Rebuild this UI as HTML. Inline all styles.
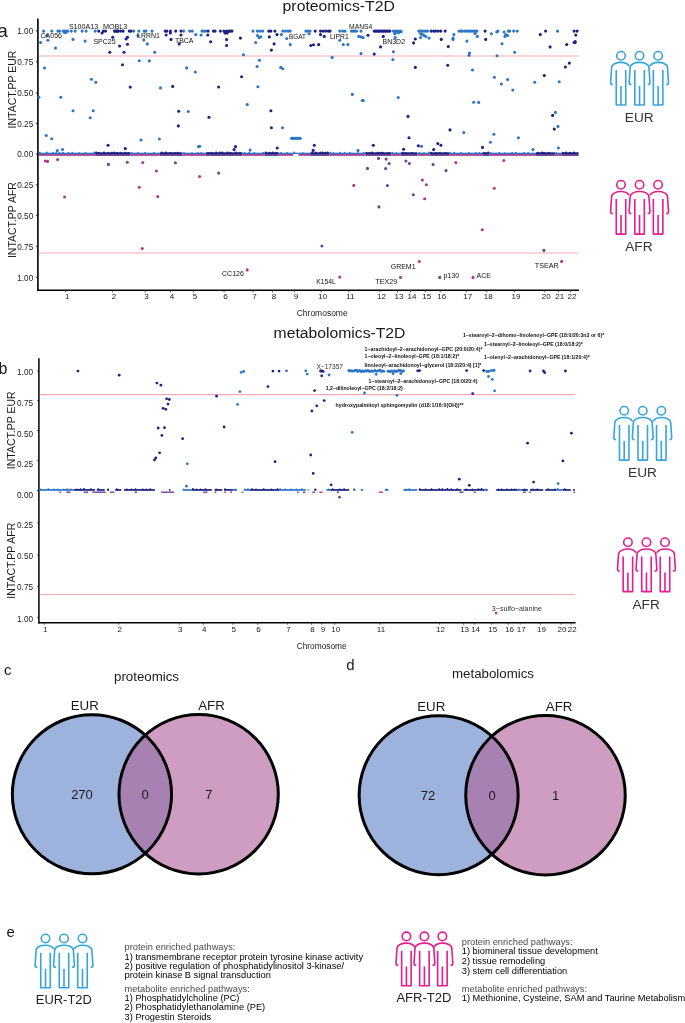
<!DOCTYPE html>
<html><head><meta charset="utf-8"><style>
html,body{margin:0;padding:0;background:#fff;}
body{width:685px;height:1023px;overflow:hidden;}
svg{display:block;font-family:"Liberation Sans", sans-serif;will-change:transform;}
</style></head><body>
<svg width="685" height="1023" viewBox="0 0 685 1023">
<rect width="685" height="1023" fill="#fff"/>
<text x="0" y="0" font-size="10.5" fill="#1a1a1a" text-anchor="middle" transform="translate(15.8,89.6) rotate(-90)">INTACT.PP EUR</text>
<text x="0" y="0" font-size="10.5" fill="#1a1a1a" text-anchor="middle" transform="translate(15.7,220.1) rotate(-90)">INTACT.PP AFR</text>
<line x1="35.8" y1="30.900000000000002" x2="37.9" y2="30.900000000000002" stroke="#333" stroke-width="0.9"/>
<line x1="35.8" y1="61.9" x2="37.9" y2="61.9" stroke="#333" stroke-width="0.9"/>
<line x1="35.8" y1="93.0" x2="37.9" y2="93.0" stroke="#333" stroke-width="0.9"/>
<line x1="35.8" y1="123.5" x2="37.9" y2="123.5" stroke="#333" stroke-width="0.9"/>
<line x1="35.8" y1="154.0" x2="37.9" y2="154.0" stroke="#333" stroke-width="0.9"/>
<line x1="35.8" y1="184.79999999999998" x2="37.9" y2="184.79999999999998" stroke="#333" stroke-width="0.9"/>
<line x1="35.8" y1="215.6" x2="37.9" y2="215.6" stroke="#333" stroke-width="0.9"/>
<line x1="35.8" y1="246.29999999999998" x2="37.9" y2="246.29999999999998" stroke="#333" stroke-width="0.9"/>
<line x1="35.8" y1="277.3" x2="37.9" y2="277.3" stroke="#333" stroke-width="0.9"/>
<line x1="38.7" y1="56" x2="578.6" y2="56" stroke="#fad5db" stroke-width="2"/>
<line x1="38.7" y1="253" x2="578.6" y2="253" stroke="#fad5db" stroke-width="2"/>
<rect x="38.7" y="152.7" width="56.50" height="1.3" fill="#2c76c6"/>
<rect x="38.7" y="154.0" width="56.50" height="1.9" fill="#aa4798"/>
<circle cx="39.8" cy="152.6" r="0.9" fill="#2c76c6"/>
<circle cx="46.8" cy="152.5" r="0.9" fill="#2c76c6"/>
<circle cx="53.0" cy="152.7" r="0.9" fill="#2c76c6"/>
<circle cx="56.3" cy="152.8" r="0.9" fill="#2c76c6"/>
<circle cx="59.5" cy="152.8" r="0.9" fill="#2c76c6"/>
<circle cx="63.0" cy="152.6" r="0.9" fill="#2c76c6"/>
<circle cx="68.5" cy="153.0" r="0.9" fill="#2c76c6"/>
<circle cx="72.3" cy="152.6" r="0.9" fill="#2c76c6"/>
<circle cx="79.0" cy="153.1" r="0.9" fill="#2c76c6"/>
<circle cx="85.5" cy="152.7" r="0.9" fill="#2c76c6"/>
<circle cx="94.3" cy="152.5" r="0.9" fill="#2c76c6"/>
<rect x="95.2" y="152.3" width="35.40" height="1.7" fill="#1d2183"/>
<rect x="95.2" y="154.0" width="35.40" height="1.9" fill="#5f3c8c"/>
<circle cx="96.3" cy="152.6" r="1.05" fill="#1d2183"/>
<circle cx="98.8" cy="152.7" r="1.05" fill="#1d2183"/>
<circle cx="104.0" cy="152.6" r="1.05" fill="#1d2183"/>
<circle cx="108.3" cy="152.9" r="1.05" fill="#1d2183"/>
<circle cx="111.8" cy="152.8" r="1.05" fill="#1d2183"/>
<circle cx="114.1" cy="152.5" r="1.05" fill="#1d2183"/>
<circle cx="116.9" cy="152.9" r="1.05" fill="#1d2183"/>
<circle cx="120.6" cy="152.7" r="1.05" fill="#1d2183"/>
<circle cx="125.0" cy="152.8" r="1.05" fill="#1d2183"/>
<circle cx="128.2" cy="153.0" r="1.05" fill="#1d2183"/>
<rect x="130.6" y="152.7" width="29.20" height="1.3" fill="#2c76c6"/>
<rect x="130.6" y="154.0" width="29.20" height="1.9" fill="#aa4798"/>
<circle cx="131.6" cy="152.8" r="0.9" fill="#2c76c6"/>
<circle cx="137.7" cy="153.0" r="0.9" fill="#2c76c6"/>
<circle cx="145.1" cy="152.7" r="0.9" fill="#2c76c6"/>
<circle cx="154.0" cy="152.6" r="0.9" fill="#2c76c6"/>
<rect x="159.8" y="152.3" width="22.50" height="1.7" fill="#1d2183"/>
<rect x="159.8" y="154.0" width="22.50" height="1.9" fill="#5f3c8c"/>
<circle cx="161.8" cy="152.6" r="1.05" fill="#1d2183"/>
<circle cx="165.8" cy="152.5" r="1.05" fill="#1d2183"/>
<circle cx="170.4" cy="153.0" r="1.05" fill="#1d2183"/>
<circle cx="174.7" cy="153.0" r="1.05" fill="#1d2183"/>
<circle cx="178.0" cy="152.9" r="1.05" fill="#1d2183"/>
<rect x="182.3" y="152.7" width="23.50" height="1.3" fill="#2c76c6"/>
<rect x="182.3" y="154.0" width="23.50" height="1.9" fill="#aa4798"/>
<circle cx="184.0" cy="152.8" r="0.9" fill="#2c76c6"/>
<circle cx="192.0" cy="153.1" r="0.9" fill="#2c76c6"/>
<circle cx="197.8" cy="152.9" r="0.9" fill="#2c76c6"/>
<circle cx="201.2" cy="152.9" r="0.9" fill="#2c76c6"/>
<rect x="205.8" y="152.3" width="36.60" height="1.7" fill="#1d2183"/>
<rect x="205.8" y="154.0" width="36.60" height="1.9" fill="#5f3c8c"/>
<circle cx="208.3" cy="153.0" r="1.05" fill="#1d2183"/>
<circle cx="211.4" cy="152.7" r="1.05" fill="#1d2183"/>
<circle cx="216.1" cy="152.5" r="1.05" fill="#1d2183"/>
<circle cx="219.9" cy="152.6" r="1.05" fill="#1d2183"/>
<circle cx="222.4" cy="152.5" r="1.05" fill="#1d2183"/>
<circle cx="227.5" cy="152.6" r="1.05" fill="#1d2183"/>
<circle cx="230.5" cy="152.7" r="1.05" fill="#1d2183"/>
<circle cx="236.0" cy="152.5" r="1.05" fill="#1d2183"/>
<circle cx="239.8" cy="152.8" r="1.05" fill="#1d2183"/>
<rect x="242.4" y="152.7" width="22.30" height="1.3" fill="#2c76c6"/>
<rect x="242.4" y="154.0" width="22.30" height="1.9" fill="#aa4798"/>
<circle cx="244.5" cy="153.0" r="0.9" fill="#2c76c6"/>
<circle cx="249.2" cy="152.7" r="0.9" fill="#2c76c6"/>
<circle cx="254.4" cy="153.0" r="0.9" fill="#2c76c6"/>
<circle cx="263.1" cy="152.6" r="0.9" fill="#2c76c6"/>
<rect x="264.7" y="152.3" width="14.00" height="1.7" fill="#1d2183"/>
<rect x="264.7" y="154.0" width="14.00" height="1.9" fill="#5f3c8c"/>
<circle cx="265.7" cy="152.6" r="1.05" fill="#1d2183"/>
<circle cx="269.6" cy="152.9" r="1.05" fill="#1d2183"/>
<circle cx="272.7" cy="152.5" r="1.05" fill="#1d2183"/>
<circle cx="276.3" cy="152.7" r="1.05" fill="#1d2183"/>
<rect x="278.7" y="152.7" width="31.50" height="1.3" fill="#2c76c6"/>
<rect x="278.7" y="154.0" width="14.60" height="1.9" fill="#aa4798"/>
<rect x="298.5" y="154.0" width="11.70" height="1.9" fill="#aa4798"/>
<circle cx="281.1" cy="152.9" r="0.9" fill="#2c76c6"/>
<circle cx="287.2" cy="152.9" r="0.9" fill="#2c76c6"/>
<circle cx="294.3" cy="152.5" r="0.9" fill="#2c76c6"/>
<circle cx="302.7" cy="153.0" r="0.9" fill="#2c76c6"/>
<rect x="310.2" y="152.3" width="19.30" height="1.7" fill="#1d2183"/>
<rect x="310.2" y="154.0" width="19.30" height="1.9" fill="#5f3c8c"/>
<circle cx="312.3" cy="152.7" r="1.05" fill="#1d2183"/>
<circle cx="315.9" cy="152.6" r="1.05" fill="#1d2183"/>
<circle cx="320.4" cy="152.5" r="1.05" fill="#1d2183"/>
<circle cx="322.7" cy="152.6" r="1.05" fill="#1d2183"/>
<circle cx="325.3" cy="152.7" r="1.05" fill="#1d2183"/>
<circle cx="327.6" cy="152.5" r="1.05" fill="#1d2183"/>
<rect x="329.5" y="152.7" width="36.10" height="1.3" fill="#2c76c6"/>
<rect x="329.5" y="154.0" width="36.10" height="1.9" fill="#aa4798"/>
<circle cx="330.2" cy="152.7" r="0.9" fill="#2c76c6"/>
<circle cx="333.4" cy="153.0" r="0.9" fill="#2c76c6"/>
<circle cx="340.0" cy="152.6" r="0.9" fill="#2c76c6"/>
<circle cx="344.6" cy="152.7" r="0.9" fill="#2c76c6"/>
<circle cx="349.7" cy="152.6" r="0.9" fill="#2c76c6"/>
<circle cx="357.8" cy="153.1" r="0.9" fill="#2c76c6"/>
<circle cx="363.6" cy="152.8" r="0.9" fill="#2c76c6"/>
<rect x="365.6" y="152.3" width="25.70" height="1.7" fill="#1d2183"/>
<rect x="365.6" y="154.0" width="25.70" height="1.9" fill="#5f3c8c"/>
<circle cx="366.3" cy="152.7" r="1.05" fill="#1d2183"/>
<circle cx="369.4" cy="153.0" r="1.05" fill="#1d2183"/>
<circle cx="372.0" cy="152.5" r="1.05" fill="#1d2183"/>
<circle cx="377.8" cy="152.8" r="1.05" fill="#1d2183"/>
<circle cx="380.4" cy="152.8" r="1.05" fill="#1d2183"/>
<circle cx="382.5" cy="152.8" r="1.05" fill="#1d2183"/>
<circle cx="388.4" cy="153.0" r="1.05" fill="#1d2183"/>
<rect x="391.3" y="152.7" width="9.40" height="1.3" fill="#2c76c6"/>
<rect x="391.3" y="154.0" width="9.40" height="1.9" fill="#aa4798"/>
<circle cx="392.3" cy="152.7" r="0.9" fill="#2c76c6"/>
<circle cx="396.3" cy="153.0" r="0.9" fill="#2c76c6"/>
<rect x="400.7" y="152.3" width="16.80" height="1.7" fill="#1d2183"/>
<rect x="400.7" y="154.0" width="16.80" height="1.9" fill="#5f3c8c"/>
<circle cx="402.8" cy="152.7" r="1.05" fill="#1d2183"/>
<circle cx="405.7" cy="153.0" r="1.05" fill="#1d2183"/>
<circle cx="411.6" cy="153.0" r="1.05" fill="#1d2183"/>
<rect x="417.5" y="152.7" width="12.60" height="1.3" fill="#2c76c6"/>
<rect x="417.5" y="154.0" width="12.60" height="1.9" fill="#aa4798"/>
<circle cx="419.6" cy="152.9" r="0.9" fill="#2c76c6"/>
<circle cx="424.0" cy="152.8" r="0.9" fill="#2c76c6"/>
<circle cx="429.1" cy="152.5" r="0.9" fill="#2c76c6"/>
<rect x="430.1" y="152.3" width="19.00" height="1.7" fill="#1d2183"/>
<rect x="430.1" y="154.0" width="19.00" height="1.9" fill="#5f3c8c"/>
<circle cx="431.2" cy="152.7" r="1.05" fill="#1d2183"/>
<circle cx="435.9" cy="153.1" r="1.05" fill="#1d2183"/>
<circle cx="439.7" cy="153.1" r="1.05" fill="#1d2183"/>
<circle cx="445.7" cy="153.1" r="1.05" fill="#1d2183"/>
<rect x="449.1" y="152.7" width="33.20" height="1.3" fill="#2c76c6"/>
<rect x="449.1" y="154.0" width="33.20" height="1.9" fill="#aa4798"/>
<circle cx="450.0" cy="152.6" r="0.9" fill="#2c76c6"/>
<circle cx="454.2" cy="152.6" r="0.9" fill="#2c76c6"/>
<circle cx="461.0" cy="153.0" r="0.9" fill="#2c76c6"/>
<circle cx="469.0" cy="152.8" r="0.9" fill="#2c76c6"/>
<circle cx="475.9" cy="153.0" r="0.9" fill="#2c76c6"/>
<circle cx="479.4" cy="152.9" r="0.9" fill="#2c76c6"/>
<rect x="482.3" y="152.3" width="7.00" height="1.7" fill="#1d2183"/>
<rect x="482.3" y="154.0" width="7.00" height="1.9" fill="#5f3c8c"/>
<circle cx="484.4" cy="153.0" r="1.05" fill="#1d2183"/>
<circle cx="488.3" cy="152.6" r="1.05" fill="#1d2183"/>
<rect x="489.3" y="152.7" width="46.70" height="1.3" fill="#2c76c6"/>
<rect x="489.3" y="154.0" width="46.70" height="1.9" fill="#aa4798"/>
<circle cx="490.5" cy="153.0" r="0.9" fill="#2c76c6"/>
<circle cx="499.3" cy="152.7" r="0.9" fill="#2c76c6"/>
<circle cx="504.7" cy="153.1" r="0.9" fill="#2c76c6"/>
<circle cx="512.1" cy="152.6" r="0.9" fill="#2c76c6"/>
<circle cx="515.8" cy="152.6" r="0.9" fill="#2c76c6"/>
<circle cx="524.2" cy="153.0" r="0.9" fill="#2c76c6"/>
<circle cx="528.1" cy="153.0" r="0.9" fill="#2c76c6"/>
<rect x="536" y="152.3" width="18.90" height="1.7" fill="#1d2183"/>
<rect x="536" y="154.0" width="18.90" height="1.9" fill="#5f3c8c"/>
<circle cx="537.8" cy="152.7" r="1.05" fill="#1d2183"/>
<circle cx="542.0" cy="152.6" r="1.05" fill="#1d2183"/>
<circle cx="544.1" cy="153.1" r="1.05" fill="#1d2183"/>
<circle cx="548.7" cy="152.8" r="1.05" fill="#1d2183"/>
<rect x="554.9" y="152.7" width="7.00" height="1.3" fill="#2c76c6"/>
<rect x="554.9" y="154.0" width="7.00" height="1.9" fill="#aa4798"/>
<circle cx="556.3" cy="153.0" r="0.9" fill="#2c76c6"/>
<rect x="561.9" y="152.3" width="16.70" height="1.7" fill="#1d2183"/>
<rect x="561.9" y="154.0" width="16.70" height="1.9" fill="#5f3c8c"/>
<circle cx="562.8" cy="152.7" r="1.05" fill="#1d2183"/>
<circle cx="566.0" cy="152.6" r="1.05" fill="#1d2183"/>
<circle cx="570.3" cy="152.7" r="1.05" fill="#1d2183"/>
<circle cx="574.0" cy="152.6" r="1.05" fill="#1d2183"/>
<line x1="37.9" y1="18.6" x2="37.9" y2="291" stroke="#000" stroke-width="1.6"/>
<line x1="37.1" y1="290.2" x2="579" y2="290.2" stroke="#000" stroke-width="1.6"/>
<line x1="65.7" y1="290" x2="65.7" y2="292.3" stroke="#333" stroke-width="0.9"/>
<line x1="112.4" y1="290" x2="112.4" y2="292.3" stroke="#333" stroke-width="0.9"/>
<line x1="145.1" y1="290" x2="145.1" y2="292.3" stroke="#333" stroke-width="0.9"/>
<line x1="170.4" y1="290" x2="170.4" y2="292.3" stroke="#333" stroke-width="0.9"/>
<line x1="193.5" y1="290" x2="193.5" y2="292.3" stroke="#333" stroke-width="0.9"/>
<line x1="224.0" y1="290" x2="224.0" y2="292.3" stroke="#333" stroke-width="0.9"/>
<line x1="253.0" y1="290" x2="253.0" y2="292.3" stroke="#333" stroke-width="0.9"/>
<line x1="272.4" y1="290" x2="272.4" y2="292.3" stroke="#333" stroke-width="0.9"/>
<line x1="294.5" y1="290" x2="294.5" y2="292.3" stroke="#333" stroke-width="0.9"/>
<line x1="321.2" y1="290" x2="321.2" y2="292.3" stroke="#333" stroke-width="0.9"/>
<line x1="348.9" y1="290" x2="348.9" y2="292.3" stroke="#333" stroke-width="0.9"/>
<line x1="379.9" y1="290" x2="379.9" y2="292.3" stroke="#333" stroke-width="0.9"/>
<line x1="397.5" y1="290" x2="397.5" y2="292.3" stroke="#333" stroke-width="0.9"/>
<line x1="410.5" y1="290" x2="410.5" y2="292.3" stroke="#333" stroke-width="0.9"/>
<line x1="425.3" y1="290" x2="425.3" y2="292.3" stroke="#333" stroke-width="0.9"/>
<line x1="440.2" y1="290" x2="440.2" y2="292.3" stroke="#333" stroke-width="0.9"/>
<line x1="466.3" y1="290" x2="466.3" y2="292.3" stroke="#333" stroke-width="0.9"/>
<line x1="486.8" y1="290" x2="486.8" y2="292.3" stroke="#333" stroke-width="0.9"/>
<line x1="514.4" y1="290" x2="514.4" y2="292.3" stroke="#333" stroke-width="0.9"/>
<line x1="544.8" y1="290" x2="544.8" y2="292.3" stroke="#333" stroke-width="0.9"/>
<line x1="558.2" y1="290" x2="558.2" y2="292.3" stroke="#333" stroke-width="0.9"/>
<line x1="570.5" y1="290" x2="570.5" y2="292.3" stroke="#333" stroke-width="0.9"/>
<circle cx="621.00" cy="55.70" r="4.25" fill="none" stroke="#37a5dc" stroke-width="1.6"/>
<path d="M612.90,84.60 Q610.60,84.60 610.60,82.50 L611.60,67.70 C611.60,64.30 616.50,62.40 621.00,62.40 C624.50,62.40 627.50,63.50 629.30,66.10 M616.25,70.00 V105.00 H625.75 V70.00 M621.00,85.90 V105.00" fill="none" stroke="#37a5dc" stroke-width="1.6" stroke-linejoin="round"/>
<circle cx="639.55" cy="55.70" r="4.25" fill="none" stroke="#37a5dc" stroke-width="1.6"/>
<path d="M631.45,84.60 Q629.15,84.60 629.15,82.50 L630.15,67.70 C630.15,64.30 635.05,62.40 639.55,62.40 C644.05,62.40 648.95,64.30 648.95,67.70 L649.95,82.50 Q649.95,84.60 647.65,84.60 M634.80,70.00 V105.00 H644.30 V70.00 M639.55,85.90 V105.00" fill="none" stroke="#37a5dc" stroke-width="1.6" stroke-linejoin="round"/>
<circle cx="658.10" cy="55.70" r="4.25" fill="none" stroke="#37a5dc" stroke-width="1.6"/>
<path d="M649.80,66.10 C651.60,63.50 654.60,62.40 658.10,62.40 C662.60,62.40 667.50,64.30 667.50,67.70 L668.50,82.50 Q668.50,84.60 666.20,84.60 M653.35,70.00 V105.00 H662.85 V70.00 M658.10,85.90 V105.00" fill="none" stroke="#37a5dc" stroke-width="1.6" stroke-linejoin="round"/>
<circle cx="621.00" cy="184.80" r="4.25" fill="none" stroke="#e41e8c" stroke-width="1.6"/>
<path d="M612.90,213.70 Q610.60,213.70 610.60,211.60 L611.60,196.80 C611.60,193.40 616.50,191.50 621.00,191.50 C624.50,191.50 627.50,192.60 629.30,195.20 M616.25,199.10 V234.10 H625.75 V199.10 M621.00,215.00 V234.10" fill="none" stroke="#e41e8c" stroke-width="1.6" stroke-linejoin="round"/>
<circle cx="639.55" cy="184.80" r="4.25" fill="none" stroke="#e41e8c" stroke-width="1.6"/>
<path d="M631.45,213.70 Q629.15,213.70 629.15,211.60 L630.15,196.80 C630.15,193.40 635.05,191.50 639.55,191.50 C644.05,191.50 648.95,193.40 648.95,196.80 L649.95,211.60 Q649.95,213.70 647.65,213.70 M634.80,199.10 V234.10 H644.30 V199.10 M639.55,215.00 V234.10" fill="none" stroke="#e41e8c" stroke-width="1.6" stroke-linejoin="round"/>
<circle cx="658.10" cy="184.80" r="4.25" fill="none" stroke="#e41e8c" stroke-width="1.6"/>
<path d="M649.80,195.20 C651.60,192.60 654.60,191.50 658.10,191.50 C662.60,191.50 667.50,193.40 667.50,196.80 L668.50,211.60 Q668.50,213.70 666.20,213.70 M653.35,199.10 V234.10 H662.85 V199.10 M658.10,215.00 V234.10" fill="none" stroke="#e41e8c" stroke-width="1.6" stroke-linejoin="round"/>
<text x="0" y="0" font-size="10.5" fill="#1a1a1a" text-anchor="middle" transform="translate(15.4,430.3) rotate(-90)">INTACT.PP EUR</text>
<text x="0" y="0" font-size="10.5" fill="#1a1a1a" text-anchor="middle" transform="translate(15.4,560.7) rotate(-90)">INTACT.PP AFR</text>
<line x1="37.2" y1="371" x2="39.1" y2="371" stroke="#333" stroke-width="0.9"/>
<line x1="37.2" y1="400.4" x2="39.1" y2="400.4" stroke="#333" stroke-width="0.9"/>
<line x1="37.2" y1="430.6" x2="39.1" y2="430.6" stroke="#333" stroke-width="0.9"/>
<line x1="37.2" y1="460.7" x2="39.1" y2="460.7" stroke="#333" stroke-width="0.9"/>
<line x1="37.2" y1="490.5" x2="39.1" y2="490.5" stroke="#333" stroke-width="0.9"/>
<line x1="37.2" y1="523" x2="39.1" y2="523" stroke="#333" stroke-width="0.9"/>
<line x1="37.2" y1="555" x2="39.1" y2="555" stroke="#333" stroke-width="0.9"/>
<line x1="37.2" y1="586.3" x2="39.1" y2="586.3" stroke="#333" stroke-width="0.9"/>
<line x1="37.2" y1="617.3" x2="39.1" y2="617.3" stroke="#333" stroke-width="0.9"/>
<line x1="39.8" y1="394.7" x2="575" y2="394.7" stroke="#f5a8b5" stroke-width="1.2"/>
<line x1="39.8" y1="594.5" x2="575" y2="594.5" stroke="#f5a8b5" stroke-width="1.2"/>
<line x1="38.9" y1="358.2" x2="38.9" y2="623.4" stroke="#000" stroke-width="1.5"/>
<line x1="38.15" y1="622.7" x2="575.6" y2="622.7" stroke="#000" stroke-width="1.5"/>
<line x1="44.3" y1="622.7" x2="44.3" y2="624.6" stroke="#333" stroke-width="0.9"/>
<line x1="118.8" y1="622.7" x2="118.8" y2="624.6" stroke="#333" stroke-width="0.9"/>
<line x1="179.2" y1="622.7" x2="179.2" y2="624.6" stroke="#333" stroke-width="0.9"/>
<line x1="203.3" y1="622.7" x2="203.3" y2="624.6" stroke="#333" stroke-width="0.9"/>
<line x1="232.7" y1="622.7" x2="232.7" y2="624.6" stroke="#333" stroke-width="0.9"/>
<line x1="257.6" y1="622.7" x2="257.6" y2="624.6" stroke="#333" stroke-width="0.9"/>
<line x1="287.5" y1="622.7" x2="287.5" y2="624.6" stroke="#333" stroke-width="0.9"/>
<line x1="311.5" y1="622.7" x2="311.5" y2="624.6" stroke="#333" stroke-width="0.9"/>
<line x1="322" y1="622.7" x2="322" y2="624.6" stroke="#333" stroke-width="0.9"/>
<line x1="334.8" y1="622.7" x2="334.8" y2="624.6" stroke="#333" stroke-width="0.9"/>
<line x1="380" y1="622.7" x2="380" y2="624.6" stroke="#333" stroke-width="0.9"/>
<line x1="439.5" y1="622.7" x2="439.5" y2="624.6" stroke="#333" stroke-width="0.9"/>
<line x1="463.6" y1="622.7" x2="463.6" y2="624.6" stroke="#333" stroke-width="0.9"/>
<line x1="474.6" y1="622.7" x2="474.6" y2="624.6" stroke="#333" stroke-width="0.9"/>
<line x1="491.7" y1="622.7" x2="491.7" y2="624.6" stroke="#333" stroke-width="0.9"/>
<line x1="508.4" y1="622.7" x2="508.4" y2="624.6" stroke="#333" stroke-width="0.9"/>
<line x1="520.2" y1="622.7" x2="520.2" y2="624.6" stroke="#333" stroke-width="0.9"/>
<line x1="540.4" y1="622.7" x2="540.4" y2="624.6" stroke="#333" stroke-width="0.9"/>
<line x1="561" y1="622.7" x2="561" y2="624.6" stroke="#333" stroke-width="0.9"/>
<line x1="571.2" y1="622.7" x2="571.2" y2="624.6" stroke="#333" stroke-width="0.9"/>
<rect x="39" y="489.1" width="35.00" height="1.7" fill="#2c76c6"/>
<rect x="182.9" y="489.1" width="8.80" height="1.7" fill="#2c76c6"/>
<rect x="232.9" y="489.1" width="4.30" height="1.7" fill="#2c76c6"/>
<rect x="244.2" y="489.1" width="5.30" height="1.7" fill="#2c76c6"/>
<rect x="279.5" y="489.1" width="26.30" height="1.7" fill="#2c76c6"/>
<rect x="307.6" y="489.1" width="1.20" height="1.7" fill="#2c76c6"/>
<rect x="326.3" y="489.1" width="4.00" height="1.7" fill="#2c76c6"/>
<rect x="353.1" y="489.1" width="2.40" height="1.7" fill="#2c76c6"/>
<rect x="360.7" y="489.1" width="2.40" height="1.7" fill="#2c76c6"/>
<rect x="384.9" y="489.1" width="3.50" height="1.7" fill="#2c76c6"/>
<rect x="403.3" y="489.1" width="14.00" height="1.7" fill="#2c76c6"/>
<rect x="484" y="489.1" width="4.00" height="1.7" fill="#2c76c6"/>
<rect x="517.7" y="489.1" width="4.00" height="1.7" fill="#2c76c6"/>
<rect x="556.5" y="489.1" width="6.10" height="1.7" fill="#2c76c6"/>
<rect x="74" y="489.1" width="21.00" height="1.7" fill="#1d2183"/>
<rect x="96.8" y="489.1" width="7.90" height="1.7" fill="#1d2183"/>
<rect x="107.3" y="489.1" width="1.70" height="1.7" fill="#1d2183"/>
<rect x="115.2" y="489.1" width="6.10" height="1.7" fill="#1d2183"/>
<rect x="124" y="489.1" width="30.90" height="1.7" fill="#1d2183"/>
<rect x="169" y="489.1" width="1.50" height="1.7" fill="#1d2183"/>
<rect x="191.7" y="489.1" width="20.10" height="1.7" fill="#1d2183"/>
<rect x="214.5" y="489.1" width="7.80" height="1.7" fill="#1d2183"/>
<rect x="224.1" y="489.1" width="8.80" height="1.7" fill="#1d2183"/>
<rect x="249.5" y="489.1" width="30.00" height="1.7" fill="#1d2183"/>
<rect x="314.6" y="489.1" width="1.80" height="1.7" fill="#1d2183"/>
<rect x="330.3" y="489.1" width="18.70" height="1.7" fill="#1d2183"/>
<rect x="419" y="489.1" width="42.50" height="1.7" fill="#1d2183"/>
<rect x="463.5" y="489.1" width="20.50" height="1.7" fill="#1d2183"/>
<rect x="496.2" y="489.1" width="21.50" height="1.7" fill="#1d2183"/>
<rect x="521.7" y="489.1" width="6.20" height="1.7" fill="#1d2183"/>
<rect x="530" y="489.1" width="13.20" height="1.7" fill="#1d2183"/>
<rect x="545.3" y="489.1" width="11.20" height="1.7" fill="#1d2183"/>
<rect x="562.6" y="489.1" width="8.20" height="1.7" fill="#1d2183"/>
<rect x="573" y="489.1" width="1.80" height="1.7" fill="#1d2183"/>
<circle cx="40.6" cy="489.4" r="1" fill="#2c76c6"/>
<circle cx="48.3" cy="489.3" r="1" fill="#2c76c6"/>
<circle cx="53.8" cy="489.4" r="1" fill="#2c76c6"/>
<circle cx="57.7" cy="489.4" r="1" fill="#2c76c6"/>
<circle cx="63.9" cy="489.5" r="1" fill="#2c76c6"/>
<circle cx="67.3" cy="489.3" r="1" fill="#2c76c6"/>
<circle cx="70.8" cy="489.5" r="1" fill="#2c76c6"/>
<circle cx="183.5" cy="489.6" r="1" fill="#2c76c6"/>
<circle cx="235.0" cy="489.4" r="1" fill="#2c76c6"/>
<circle cx="244.7" cy="489.4" r="1" fill="#2c76c6"/>
<circle cx="248.0" cy="489.2" r="1" fill="#2c76c6"/>
<circle cx="280.1" cy="489.3" r="1" fill="#2c76c6"/>
<circle cx="285.3" cy="489.5" r="1" fill="#2c76c6"/>
<circle cx="290.9" cy="489.4" r="1" fill="#2c76c6"/>
<circle cx="296.4" cy="489.4" r="1" fill="#2c76c6"/>
<circle cx="301.7" cy="489.2" r="1" fill="#2c76c6"/>
<circle cx="328.9" cy="489.5" r="1" fill="#2c76c6"/>
<circle cx="354.2" cy="489.2" r="1" fill="#2c76c6"/>
<circle cx="386.4" cy="489.5" r="1" fill="#2c76c6"/>
<circle cx="406.2" cy="489.5" r="1" fill="#2c76c6"/>
<circle cx="409.2" cy="489.2" r="1" fill="#2c76c6"/>
<circle cx="485.7" cy="489.6" r="1" fill="#2c76c6"/>
<circle cx="518.4" cy="489.4" r="1" fill="#2c76c6"/>
<circle cx="557.7" cy="489.1" r="1" fill="#2c76c6"/>
<circle cx="76.9" cy="489.5" r="1" fill="#1d2183"/>
<circle cx="80.5" cy="489.2" r="1" fill="#1d2183"/>
<circle cx="84.0" cy="489.1" r="1" fill="#1d2183"/>
<circle cx="91.0" cy="489.2" r="1" fill="#1d2183"/>
<circle cx="98.4" cy="489.2" r="1" fill="#1d2183"/>
<circle cx="108.1" cy="489.4" r="1" fill="#1d2183"/>
<circle cx="116.8" cy="489.2" r="1" fill="#1d2183"/>
<circle cx="126.9" cy="489.5" r="1" fill="#1d2183"/>
<circle cx="131.4" cy="489.5" r="1" fill="#1d2183"/>
<circle cx="135.5" cy="489.3" r="1" fill="#1d2183"/>
<circle cx="142.8" cy="489.4" r="1" fill="#1d2183"/>
<circle cx="146.3" cy="489.6" r="1" fill="#1d2183"/>
<circle cx="150.3" cy="489.2" r="1" fill="#1d2183"/>
<circle cx="192.9" cy="489.1" r="1" fill="#1d2183"/>
<circle cx="196.4" cy="489.4" r="1" fill="#1d2183"/>
<circle cx="200.6" cy="489.4" r="1" fill="#1d2183"/>
<circle cx="205.5" cy="489.3" r="1" fill="#1d2183"/>
<circle cx="216.2" cy="489.4" r="1" fill="#1d2183"/>
<circle cx="225.1" cy="489.2" r="1" fill="#1d2183"/>
<circle cx="252.0" cy="489.2" r="1" fill="#1d2183"/>
<circle cx="256.0" cy="489.5" r="1" fill="#1d2183"/>
<circle cx="263.7" cy="489.2" r="1" fill="#1d2183"/>
<circle cx="271.4" cy="489.5" r="1" fill="#1d2183"/>
<circle cx="277.5" cy="489.3" r="1" fill="#1d2183"/>
<circle cx="315.2" cy="489.6" r="1" fill="#1d2183"/>
<circle cx="332.6" cy="489.2" r="1" fill="#1d2183"/>
<circle cx="339.7" cy="489.4" r="1" fill="#1d2183"/>
<circle cx="344.1" cy="489.2" r="1" fill="#1d2183"/>
<circle cx="419.7" cy="489.2" r="1" fill="#1d2183"/>
<circle cx="425.5" cy="489.5" r="1" fill="#1d2183"/>
<circle cx="431.5" cy="489.2" r="1" fill="#1d2183"/>
<circle cx="439.1" cy="489.2" r="1" fill="#1d2183"/>
<circle cx="442.2" cy="489.2" r="1" fill="#1d2183"/>
<circle cx="447.4" cy="489.1" r="1" fill="#1d2183"/>
<circle cx="451.3" cy="489.3" r="1" fill="#1d2183"/>
<circle cx="457.2" cy="489.2" r="1" fill="#1d2183"/>
<circle cx="466.2" cy="489.6" r="1" fill="#1d2183"/>
<circle cx="472.5" cy="489.4" r="1" fill="#1d2183"/>
<circle cx="478.4" cy="489.2" r="1" fill="#1d2183"/>
<circle cx="481.6" cy="489.1" r="1" fill="#1d2183"/>
<circle cx="498.5" cy="489.6" r="1" fill="#1d2183"/>
<circle cx="501.6" cy="489.4" r="1" fill="#1d2183"/>
<circle cx="507.0" cy="489.5" r="1" fill="#1d2183"/>
<circle cx="511.6" cy="489.6" r="1" fill="#1d2183"/>
<circle cx="514.9" cy="489.4" r="1" fill="#1d2183"/>
<circle cx="524.5" cy="489.5" r="1" fill="#1d2183"/>
<circle cx="532.5" cy="489.6" r="1" fill="#1d2183"/>
<circle cx="537.2" cy="489.4" r="1" fill="#1d2183"/>
<circle cx="548.0" cy="489.3" r="1" fill="#1d2183"/>
<circle cx="554.9" cy="489.5" r="1" fill="#1d2183"/>
<circle cx="564.7" cy="489.3" r="1" fill="#1d2183"/>
<rect x="59.1" y="491.5" width="1.80" height="1.4" fill="#b03a8e"/>
<rect x="224.1" y="491.5" width="1.70" height="1.4" fill="#b03a8e"/>
<rect x="230.2" y="491.5" width="1.80" height="1.4" fill="#b03a8e"/>
<rect x="241.6" y="491.5" width="1.80" height="1.4" fill="#b03a8e"/>
<rect x="297" y="491.5" width="1.80" height="1.4" fill="#b03a8e"/>
<rect x="319.3" y="491.5" width="3.50" height="1.4" fill="#b03a8e"/>
<rect x="378.8" y="491.5" width="4.30" height="1.4" fill="#b03a8e"/>
<rect x="528.9" y="491.5" width="2.00" height="1.4" fill="#b03a8e"/>
<rect x="573.5" y="491.5" width="1.50" height="1.4" fill="#b03a8e"/>
<rect x="66.2" y="491.5" width="4.30" height="1.4" fill="#6a4596"/>
<rect x="83.7" y="491.5" width="4.40" height="1.4" fill="#6a4596"/>
<rect x="92.4" y="491.5" width="13.20" height="1.4" fill="#6a4596"/>
<rect x="110" y="491.5" width="4.30" height="1.4" fill="#6a4596"/>
<rect x="134.5" y="491.5" width="2.60" height="1.4" fill="#6a4596"/>
<rect x="161" y="491.5" width="13.20" height="1.4" fill="#6a4596"/>
<rect x="203.1" y="491.5" width="4.40" height="1.4" fill="#6a4596"/>
<rect x="214.5" y="491.5" width="1.70" height="1.4" fill="#6a4596"/>
<rect x="302.9" y="491.5" width="2.40" height="1.4" fill="#6a4596"/>
<rect x="312.3" y="491.5" width="2.90" height="1.4" fill="#6a4596"/>
<rect x="336.8" y="491.5" width="2.30" height="1.4" fill="#6a4596"/>
<rect x="459.4" y="491.5" width="4.10" height="1.4" fill="#6a4596"/>
<rect x="473.7" y="491.5" width="2.10" height="1.4" fill="#6a4596"/>
<rect x="522.8" y="491.5" width="3.00" height="1.4" fill="#6a4596"/>
<circle cx="624.20" cy="410.80" r="4.25" fill="none" stroke="#37a5dc" stroke-width="1.6"/>
<path d="M616.10,439.70 Q613.80,439.70 613.80,437.60 L614.80,422.80 C614.80,419.40 619.70,417.50 624.20,417.50 C627.70,417.50 630.70,418.60 632.50,421.20 M619.45,425.10 V460.10 H628.95 V425.10 M624.20,441.00 V460.10" fill="none" stroke="#37a5dc" stroke-width="1.6" stroke-linejoin="round"/>
<circle cx="642.75" cy="410.80" r="4.25" fill="none" stroke="#37a5dc" stroke-width="1.6"/>
<path d="M634.65,439.70 Q632.35,439.70 632.35,437.60 L633.35,422.80 C633.35,419.40 638.25,417.50 642.75,417.50 C647.25,417.50 652.15,419.40 652.15,422.80 L653.15,437.60 Q653.15,439.70 650.85,439.70 M638.00,425.10 V460.10 H647.50 V425.10 M642.75,441.00 V460.10" fill="none" stroke="#37a5dc" stroke-width="1.6" stroke-linejoin="round"/>
<circle cx="661.30" cy="410.80" r="4.25" fill="none" stroke="#37a5dc" stroke-width="1.6"/>
<path d="M653.00,421.20 C654.80,418.60 657.80,417.50 661.30,417.50 C665.80,417.50 670.70,419.40 670.70,422.80 L671.70,437.60 Q671.70,439.70 669.40,439.70 M656.55,425.10 V460.10 H666.05 V425.10 M661.30,441.00 V460.10" fill="none" stroke="#37a5dc" stroke-width="1.6" stroke-linejoin="round"/>
<circle cx="627.90" cy="542.30" r="4.25" fill="none" stroke="#e41e8c" stroke-width="1.6"/>
<path d="M619.80,571.20 Q617.50,571.20 617.50,569.10 L618.50,554.30 C618.50,550.90 623.40,549.00 627.90,549.00 C631.40,549.00 634.40,550.10 636.20,552.70 M623.15,556.60 V591.60 H632.65 V556.60 M627.90,572.50 V591.60" fill="none" stroke="#e41e8c" stroke-width="1.6" stroke-linejoin="round"/>
<circle cx="646.45" cy="542.30" r="4.25" fill="none" stroke="#e41e8c" stroke-width="1.6"/>
<path d="M638.35,571.20 Q636.05,571.20 636.05,569.10 L637.05,554.30 C637.05,550.90 641.95,549.00 646.45,549.00 C650.95,549.00 655.85,550.90 655.85,554.30 L656.85,569.10 Q656.85,571.20 654.55,571.20 M641.70,556.60 V591.60 H651.20 V556.60 M646.45,572.50 V591.60" fill="none" stroke="#e41e8c" stroke-width="1.6" stroke-linejoin="round"/>
<circle cx="665.00" cy="542.30" r="4.25" fill="none" stroke="#e41e8c" stroke-width="1.6"/>
<path d="M656.70,552.70 C658.50,550.10 661.50,549.00 665.00,549.00 C669.50,549.00 674.40,550.90 674.40,554.30 L675.40,569.10 Q675.40,571.20 673.10,571.20 M660.25,556.60 V591.60 H669.75 V556.60 M665.00,572.50 V591.60" fill="none" stroke="#e41e8c" stroke-width="1.6" stroke-linejoin="round"/>
<defs><clipPath id="clc"><circle cx="91.95" cy="794.25" r="79.6"/></clipPath></defs>
<circle cx="91.95" cy="794.25" r="79.6" fill="#9db3dd"/>
<circle cx="198.65" cy="794.25" r="79.65" fill="#cf9dc2"/>
<circle cx="198.65" cy="794.25" r="79.65" fill="#a781b2" clip-path="url(#clc)"/>
<circle cx="91.95" cy="794.25" r="79.6" fill="none" stroke="#000" stroke-width="3"/>
<circle cx="198.65" cy="794.25" r="79.65" fill="none" stroke="#000" stroke-width="3"/>
<defs><clipPath id="cld"><circle cx="438.65" cy="795.2" r="79.5"/></clipPath></defs>
<circle cx="438.65" cy="795.2" r="79.5" fill="#9db3dd"/>
<circle cx="545.5" cy="795.2" r="79.75" fill="#cf9dc2"/>
<circle cx="545.5" cy="795.2" r="79.75" fill="#a781b2" clip-path="url(#cld)"/>
<circle cx="438.65" cy="795.2" r="79.5" fill="none" stroke="#000" stroke-width="3"/>
<circle cx="545.5" cy="795.2" r="79.75" fill="none" stroke="#000" stroke-width="3"/>
<circle cx="45.50" cy="938.50" r="4.25" fill="none" stroke="#37a5dc" stroke-width="1.6"/>
<path d="M37.40,967.40 Q35.10,967.40 35.10,965.30 L36.10,950.50 C36.10,947.10 41.00,945.20 45.50,945.20 C49.00,945.20 52.00,946.30 53.80,948.90 M40.75,952.80 V987.80 H50.25 V952.80 M45.50,968.70 V987.80" fill="none" stroke="#37a5dc" stroke-width="1.6" stroke-linejoin="round"/>
<circle cx="64.00" cy="938.50" r="4.25" fill="none" stroke="#37a5dc" stroke-width="1.6"/>
<path d="M55.90,967.40 Q53.60,967.40 53.60,965.30 L54.60,950.50 C54.60,947.10 59.50,945.20 64.00,945.20 C68.50,945.20 73.40,947.10 73.40,950.50 L74.40,965.30 Q74.40,967.40 72.10,967.40 M59.25,952.80 V987.80 H68.75 V952.80 M64.00,968.70 V987.80" fill="none" stroke="#37a5dc" stroke-width="1.6" stroke-linejoin="round"/>
<circle cx="82.50" cy="938.50" r="4.25" fill="none" stroke="#37a5dc" stroke-width="1.6"/>
<path d="M74.20,948.90 C76.00,946.30 79.00,945.20 82.50,945.20 C87.00,945.20 91.90,947.10 91.90,950.50 L92.90,965.30 Q92.90,967.40 90.60,967.40 M77.75,952.80 V987.80 H87.25 V952.80 M82.50,968.70 V987.80" fill="none" stroke="#37a5dc" stroke-width="1.6" stroke-linejoin="round"/>
<circle cx="406.40" cy="936.40" r="4.25" fill="none" stroke="#e41e8c" stroke-width="1.6"/>
<path d="M398.30,965.30 Q396.00,965.30 396.00,963.20 L397.00,948.40 C397.00,945.00 401.90,943.10 406.40,943.10 C409.90,943.10 412.90,944.20 414.70,946.80 M401.65,950.70 V985.70 H411.15 V950.70 M406.40,966.60 V985.70" fill="none" stroke="#e41e8c" stroke-width="1.6" stroke-linejoin="round"/>
<circle cx="424.40" cy="936.40" r="4.25" fill="none" stroke="#e41e8c" stroke-width="1.6"/>
<path d="M416.30,965.30 Q414.00,965.30 414.00,963.20 L415.00,948.40 C415.00,945.00 419.90,943.10 424.40,943.10 C428.90,943.10 433.80,945.00 433.80,948.40 L434.80,963.20 Q434.80,965.30 432.50,965.30 M419.65,950.70 V985.70 H429.15 V950.70 M424.40,966.60 V985.70" fill="none" stroke="#e41e8c" stroke-width="1.6" stroke-linejoin="round"/>
<circle cx="442.40" cy="936.40" r="4.25" fill="none" stroke="#e41e8c" stroke-width="1.6"/>
<path d="M434.10,946.80 C435.90,944.20 438.90,943.10 442.40,943.10 C446.90,943.10 451.80,945.00 451.80,948.40 L452.80,963.20 Q452.80,965.30 450.50,965.30 M437.65,950.70 V985.70 H447.15 V950.70 M442.40,966.60 V985.70" fill="none" stroke="#e41e8c" stroke-width="1.6" stroke-linejoin="round"/>
<circle cx="43.6" cy="31.1" r="1.55" fill="#2c76c6"/>
<circle cx="51.8" cy="31.1" r="1.55" fill="#2c76c6"/>
<circle cx="57.9" cy="31.1" r="1.55" fill="#2c76c6"/>
<circle cx="59.6" cy="31.1" r="1.55" fill="#2c76c6"/>
<circle cx="63.1" cy="31.1" r="1.55" fill="#2c76c6"/>
<circle cx="64.6" cy="31.1" r="1.55" fill="#2c76c6"/>
<circle cx="66.0" cy="31.1" r="1.55" fill="#2c76c6"/>
<circle cx="67.8" cy="31.1" r="1.55" fill="#2c76c6"/>
<circle cx="71.3" cy="31.1" r="1.55" fill="#2c76c6"/>
<circle cx="75.1" cy="31.1" r="1.55" fill="#2c76c6"/>
<circle cx="82.1" cy="31.1" r="1.55" fill="#2c76c6"/>
<circle cx="86.1" cy="31.1" r="1.55" fill="#2c76c6"/>
<circle cx="95.2" cy="31.1" r="1.55" fill="#2c76c6"/>
<circle cx="133.7" cy="31.1" r="1.55" fill="#2c76c6"/>
<circle cx="138.9" cy="31.1" r="1.55" fill="#2c76c6"/>
<circle cx="144.2" cy="31.1" r="1.55" fill="#2c76c6"/>
<circle cx="145.9" cy="31.1" r="1.55" fill="#2c76c6"/>
<circle cx="152.0" cy="31.1" r="1.55" fill="#2c76c6"/>
<circle cx="183.6" cy="31.1" r="1.55" fill="#2c76c6"/>
<circle cx="189.7" cy="31.1" r="1.55" fill="#2c76c6"/>
<circle cx="192.3" cy="31.1" r="1.55" fill="#2c76c6"/>
<circle cx="202.0" cy="31.1" r="1.55" fill="#2c76c6"/>
<circle cx="203.7" cy="31.1" r="1.55" fill="#2c76c6"/>
<circle cx="205.5" cy="31.1" r="1.55" fill="#2c76c6"/>
<circle cx="253.0" cy="31.1" r="1.55" fill="#2c76c6"/>
<circle cx="257.4" cy="31.1" r="1.55" fill="#2c76c6"/>
<circle cx="260.0" cy="31.1" r="1.55" fill="#2c76c6"/>
<circle cx="262.7" cy="31.1" r="1.55" fill="#2c76c6"/>
<circle cx="282.8" cy="31.1" r="1.55" fill="#2c76c6"/>
<circle cx="285.4" cy="31.1" r="1.55" fill="#2c76c6"/>
<circle cx="288.1" cy="31.1" r="1.55" fill="#2c76c6"/>
<circle cx="290.2" cy="31.1" r="1.55" fill="#2c76c6"/>
<circle cx="305.9" cy="31.1" r="1.55" fill="#2c76c6"/>
<circle cx="307.7" cy="31.1" r="1.55" fill="#2c76c6"/>
<circle cx="310.0" cy="31.1" r="1.55" fill="#2c76c6"/>
<circle cx="339.8" cy="31.1" r="1.55" fill="#2c76c6"/>
<circle cx="342.7" cy="31.1" r="1.55" fill="#2c76c6"/>
<circle cx="345.0" cy="31.1" r="1.55" fill="#2c76c6"/>
<circle cx="351.4" cy="31.1" r="1.55" fill="#2c76c6"/>
<circle cx="353.0" cy="31.1" r="1.55" fill="#2c76c6"/>
<circle cx="354.8" cy="31.1" r="1.55" fill="#2c76c6"/>
<circle cx="356.6" cy="31.1" r="1.55" fill="#2c76c6"/>
<circle cx="361.0" cy="31.1" r="1.55" fill="#2c76c6"/>
<circle cx="393.4" cy="31.1" r="1.55" fill="#2c76c6"/>
<circle cx="397.8" cy="31.1" r="1.55" fill="#2c76c6"/>
<circle cx="400.4" cy="31.1" r="1.55" fill="#2c76c6"/>
<circle cx="418.8" cy="31.1" r="1.55" fill="#2c76c6"/>
<circle cx="420.5" cy="31.1" r="1.55" fill="#2c76c6"/>
<circle cx="422.2" cy="31.1" r="1.55" fill="#2c76c6"/>
<circle cx="424.0" cy="31.1" r="1.55" fill="#2c76c6"/>
<circle cx="425.8" cy="31.1" r="1.55" fill="#2c76c6"/>
<circle cx="427.6" cy="31.1" r="1.55" fill="#2c76c6"/>
<circle cx="459.1" cy="31.1" r="1.55" fill="#2c76c6"/>
<circle cx="461.5" cy="31.1" r="1.55" fill="#2c76c6"/>
<circle cx="462.0" cy="31.1" r="1.55" fill="#2c76c6"/>
<circle cx="464.6" cy="31.1" r="1.55" fill="#2c76c6"/>
<circle cx="466.4" cy="31.1" r="1.55" fill="#2c76c6"/>
<circle cx="468.1" cy="31.1" r="1.55" fill="#2c76c6"/>
<circle cx="469.9" cy="31.1" r="1.55" fill="#2c76c6"/>
<circle cx="471.6" cy="31.1" r="1.55" fill="#2c76c6"/>
<circle cx="473.4" cy="31.1" r="1.55" fill="#2c76c6"/>
<circle cx="475.1" cy="31.1" r="1.55" fill="#2c76c6"/>
<circle cx="476.9" cy="31.1" r="1.55" fill="#2c76c6"/>
<circle cx="497.9" cy="31.1" r="1.55" fill="#2c76c6"/>
<circle cx="508.4" cy="31.1" r="1.55" fill="#2c76c6"/>
<circle cx="509.7" cy="31.1" r="1.55" fill="#2c76c6"/>
<circle cx="513.7" cy="31.1" r="1.55" fill="#2c76c6"/>
<circle cx="517.2" cy="31.1" r="1.55" fill="#2c76c6"/>
<circle cx="557.5" cy="31.1" r="1.55" fill="#2c76c6"/>
<circle cx="98.7" cy="31.1" r="1.55" fill="#1d2183"/>
<circle cx="103.4" cy="31.1" r="1.55" fill="#1d2183"/>
<circle cx="105.5" cy="31.1" r="1.55" fill="#1d2183"/>
<circle cx="114.5" cy="31.1" r="1.55" fill="#1d2183"/>
<circle cx="116.5" cy="31.1" r="1.55" fill="#1d2183"/>
<circle cx="118.0" cy="31.1" r="1.55" fill="#1d2183"/>
<circle cx="115.3" cy="31.1" r="1.55" fill="#1d2183"/>
<circle cx="117.9" cy="31.1" r="1.55" fill="#1d2183"/>
<circle cx="120.5" cy="31.1" r="1.55" fill="#1d2183"/>
<circle cx="123.1" cy="31.1" r="1.55" fill="#1d2183"/>
<circle cx="129.3" cy="31.1" r="1.55" fill="#1d2183"/>
<circle cx="131.0" cy="31.1" r="1.55" fill="#1d2183"/>
<circle cx="165.2" cy="31.1" r="1.55" fill="#1d2183"/>
<circle cx="166.9" cy="31.1" r="1.55" fill="#1d2183"/>
<circle cx="170.4" cy="31.1" r="1.55" fill="#1d2183"/>
<circle cx="175.7" cy="31.1" r="1.55" fill="#1d2183"/>
<circle cx="181.0" cy="31.1" r="1.55" fill="#1d2183"/>
<circle cx="208.1" cy="31.1" r="1.55" fill="#1d2183"/>
<circle cx="213.4" cy="31.1" r="1.55" fill="#1d2183"/>
<circle cx="215.1" cy="31.1" r="1.55" fill="#1d2183"/>
<circle cx="220.4" cy="31.1" r="1.55" fill="#1d2183"/>
<circle cx="223.9" cy="31.1" r="1.55" fill="#1d2183"/>
<circle cx="226.5" cy="31.1" r="1.55" fill="#1d2183"/>
<circle cx="229.1" cy="31.1" r="1.55" fill="#1d2183"/>
<circle cx="230.3" cy="31.1" r="1.55" fill="#1d2183"/>
<circle cx="232.0" cy="31.1" r="1.55" fill="#1d2183"/>
<circle cx="268.8" cy="31.1" r="1.55" fill="#1d2183"/>
<circle cx="270.9" cy="31.1" r="1.55" fill="#1d2183"/>
<circle cx="274.9" cy="31.1" r="1.55" fill="#1d2183"/>
<circle cx="315.2" cy="31.1" r="1.55" fill="#1d2183"/>
<circle cx="320.5" cy="31.1" r="1.55" fill="#1d2183"/>
<circle cx="323.1" cy="31.1" r="1.55" fill="#1d2183"/>
<circle cx="325.7" cy="31.1" r="1.55" fill="#1d2183"/>
<circle cx="328.4" cy="31.1" r="1.55" fill="#1d2183"/>
<circle cx="330.1" cy="31.1" r="1.55" fill="#1d2183"/>
<circle cx="374.2" cy="31.1" r="1.55" fill="#1d2183"/>
<circle cx="375.6" cy="31.1" r="1.55" fill="#1d2183"/>
<circle cx="377.0" cy="31.1" r="1.55" fill="#1d2183"/>
<circle cx="378.4" cy="31.1" r="1.55" fill="#1d2183"/>
<circle cx="379.8" cy="31.1" r="1.55" fill="#1d2183"/>
<circle cx="381.2" cy="31.1" r="1.55" fill="#1d2183"/>
<circle cx="382.6" cy="31.1" r="1.55" fill="#1d2183"/>
<circle cx="384.0" cy="31.1" r="1.55" fill="#1d2183"/>
<circle cx="385.4" cy="31.1" r="1.55" fill="#1d2183"/>
<circle cx="386.8" cy="31.1" r="1.55" fill="#1d2183"/>
<circle cx="388.2" cy="31.1" r="1.55" fill="#1d2183"/>
<circle cx="389.9" cy="31.1" r="1.55" fill="#1d2183"/>
<circle cx="431.1" cy="31.1" r="1.55" fill="#1d2183"/>
<circle cx="433.7" cy="31.1" r="1.55" fill="#1d2183"/>
<circle cx="435.5" cy="31.1" r="1.55" fill="#1d2183"/>
<circle cx="438.1" cy="31.1" r="1.55" fill="#1d2183"/>
<circle cx="440.7" cy="31.1" r="1.55" fill="#1d2183"/>
<circle cx="445.1" cy="31.1" r="1.55" fill="#1d2183"/>
<circle cx="485.1" cy="31.1" r="1.55" fill="#1d2183"/>
<circle cx="545.6" cy="31.1" r="1.55" fill="#1d2183"/>
<circle cx="574.1" cy="31.1" r="1.55" fill="#1d2183"/>
<circle cx="577.1" cy="31.1" r="1.55" fill="#1d2183"/>
<circle cx="40.6" cy="42.5" r="1.55" fill="#2c76c6"/>
<circle cx="47.9" cy="40.2" r="1.55" fill="#2c76c6"/>
<circle cx="55.5" cy="48.1" r="1.55" fill="#2c76c6"/>
<circle cx="73.0" cy="39.4" r="1.55" fill="#2c76c6"/>
<circle cx="85.1" cy="41.1" r="1.55" fill="#2c76c6"/>
<circle cx="44.5" cy="68.0" r="1.55" fill="#2c76c6"/>
<circle cx="64.6" cy="32.6" r="1.55" fill="#2c76c6"/>
<circle cx="66.0" cy="32.3" r="1.55" fill="#2c76c6"/>
<circle cx="46.8" cy="35.5" r="1.55" fill="#2c76c6"/>
<circle cx="91.4" cy="79.3" r="1.55" fill="#2c76c6"/>
<circle cx="95.8" cy="82.2" r="1.55" fill="#2c76c6"/>
<circle cx="38.9" cy="97.3" r="1.55" fill="#2c76c6"/>
<circle cx="60.8" cy="97.3" r="1.55" fill="#2c76c6"/>
<circle cx="73.0" cy="110.8" r="1.55" fill="#2c76c6"/>
<circle cx="93.2" cy="110.8" r="1.55" fill="#2c76c6"/>
<circle cx="90.2" cy="117.8" r="1.55" fill="#2c76c6"/>
<circle cx="139.3" cy="60.8" r="1.55" fill="#2c76c6"/>
<circle cx="149.3" cy="60.9" r="1.55" fill="#2c76c6"/>
<circle cx="46.2" cy="135.5" r="1.55" fill="#2c76c6"/>
<circle cx="51.7" cy="138.7" r="1.55" fill="#2c76c6"/>
<circle cx="57.3" cy="150.6" r="1.55" fill="#2c76c6"/>
<circle cx="62.5" cy="149.5" r="1.55" fill="#2c76c6"/>
<circle cx="141.0" cy="140.0" r="1.55" fill="#2c76c6"/>
<circle cx="138.0" cy="35.5" r="1.55" fill="#2c76c6"/>
<circle cx="195.8" cy="34.6" r="1.55" fill="#2c76c6"/>
<circle cx="201.1" cy="35.0" r="1.55" fill="#2c76c6"/>
<circle cx="143.8" cy="39.9" r="1.55" fill="#2c76c6"/>
<circle cx="147.3" cy="43.9" r="1.55" fill="#2c76c6"/>
<circle cx="154.7" cy="52.2" r="1.55" fill="#2c76c6"/>
<circle cx="186.7" cy="67.9" r="1.55" fill="#2c76c6"/>
<circle cx="195.3" cy="72.0" r="1.55" fill="#2c76c6"/>
<circle cx="160.5" cy="87.9" r="1.55" fill="#2c76c6"/>
<circle cx="188.3" cy="111.5" r="1.55" fill="#2c76c6"/>
<circle cx="159.4" cy="139.0" r="1.55" fill="#2c76c6"/>
<circle cx="198.5" cy="146.6" r="1.55" fill="#2c76c6"/>
<circle cx="199.7" cy="146.2" r="1.55" fill="#2c76c6"/>
<circle cx="257.4" cy="35.5" r="1.55" fill="#2c76c6"/>
<circle cx="259.2" cy="37.6" r="1.55" fill="#2c76c6"/>
<circle cx="260.9" cy="36.7" r="1.55" fill="#2c76c6"/>
<circle cx="255.7" cy="42.5" r="1.55" fill="#2c76c6"/>
<circle cx="281.4" cy="34.6" r="1.55" fill="#2c76c6"/>
<circle cx="286.7" cy="38.5" r="1.55" fill="#2c76c6"/>
<circle cx="290.3" cy="44.6" r="1.55" fill="#2c76c6"/>
<circle cx="309.1" cy="33.8" r="1.55" fill="#2c76c6"/>
<circle cx="339.8" cy="40.2" r="1.55" fill="#2c76c6"/>
<circle cx="343.3" cy="44.6" r="1.55" fill="#2c76c6"/>
<circle cx="243.4" cy="54.8" r="1.55" fill="#2c76c6"/>
<circle cx="259.5" cy="60.2" r="1.55" fill="#2c76c6"/>
<circle cx="257.1" cy="66.5" r="1.55" fill="#2c76c6"/>
<circle cx="280.7" cy="67.4" r="1.55" fill="#2c76c6"/>
<circle cx="282.8" cy="68.8" r="1.55" fill="#2c76c6"/>
<circle cx="332.2" cy="57.4" r="1.55" fill="#2c76c6"/>
<circle cx="257.9" cy="86.8" r="1.55" fill="#2c76c6"/>
<circle cx="247.2" cy="104.5" r="1.55" fill="#2c76c6"/>
<circle cx="282.5" cy="127.8" r="1.55" fill="#2c76c6"/>
<circle cx="250.1" cy="150.1" r="1.55" fill="#2c76c6"/>
<circle cx="358.7" cy="36.4" r="1.55" fill="#2c76c6"/>
<circle cx="361.0" cy="36.9" r="1.55" fill="#2c76c6"/>
<circle cx="363.1" cy="37.6" r="1.55" fill="#2c76c6"/>
<circle cx="347.9" cy="44.6" r="1.55" fill="#2c76c6"/>
<circle cx="395.2" cy="37.6" r="1.55" fill="#2c76c6"/>
<circle cx="395.2" cy="32.9" r="1.55" fill="#2c76c6"/>
<circle cx="394.8" cy="33.8" r="1.55" fill="#2c76c6"/>
<circle cx="398.5" cy="32.8" r="1.55" fill="#2c76c6"/>
<circle cx="394.5" cy="31.3" r="1.55" fill="#2c76c6"/>
<circle cx="396.2" cy="31.1" r="1.55" fill="#2c76c6"/>
<circle cx="399.2" cy="31.4" r="1.55" fill="#2c76c6"/>
<circle cx="401.2" cy="31.8" r="1.55" fill="#2c76c6"/>
<circle cx="420.6" cy="33.8" r="1.55" fill="#2c76c6"/>
<circle cx="422.4" cy="34.6" r="1.55" fill="#2c76c6"/>
<circle cx="424.1" cy="35.5" r="1.55" fill="#2c76c6"/>
<circle cx="425.8" cy="36.4" r="1.55" fill="#2c76c6"/>
<circle cx="420.6" cy="37.6" r="1.55" fill="#2c76c6"/>
<circle cx="429.0" cy="38.1" r="1.55" fill="#2c76c6"/>
<circle cx="453.9" cy="34.6" r="1.55" fill="#2c76c6"/>
<circle cx="453.0" cy="38.1" r="1.55" fill="#2c76c6"/>
<circle cx="453.0" cy="39.5" r="1.55" fill="#2c76c6"/>
<circle cx="361.0" cy="53.6" r="1.55" fill="#2c76c6"/>
<circle cx="393.4" cy="51.8" r="1.55" fill="#2c76c6"/>
<circle cx="392.9" cy="59.5" r="1.55" fill="#2c76c6"/>
<circle cx="352.3" cy="94.4" r="1.55" fill="#2c76c6"/>
<circle cx="362.2" cy="100.5" r="1.55" fill="#2c76c6"/>
<circle cx="363.3" cy="100.5" r="1.55" fill="#2c76c6"/>
<circle cx="398.2" cy="97.5" r="1.55" fill="#2c76c6"/>
<circle cx="358.0" cy="150.6" r="1.55" fill="#2c76c6"/>
<circle cx="421.5" cy="146.2" r="1.55" fill="#2c76c6"/>
<circle cx="475.1" cy="33.4" r="1.55" fill="#2c76c6"/>
<circle cx="477.4" cy="36.4" r="1.55" fill="#2c76c6"/>
<circle cx="491.4" cy="33.8" r="1.55" fill="#2c76c6"/>
<circle cx="496.7" cy="32.0" r="1.55" fill="#2c76c6"/>
<circle cx="504.1" cy="32.0" r="1.55" fill="#2c76c6"/>
<circle cx="505.8" cy="34.6" r="1.55" fill="#2c76c6"/>
<circle cx="507.6" cy="35.5" r="1.55" fill="#2c76c6"/>
<circle cx="504.9" cy="36.4" r="1.55" fill="#2c76c6"/>
<circle cx="466.9" cy="41.1" r="1.55" fill="#2c76c6"/>
<circle cx="502.0" cy="43.8" r="1.55" fill="#2c76c6"/>
<circle cx="469.5" cy="53.0" r="1.55" fill="#2c76c6"/>
<circle cx="469.0" cy="55.3" r="1.55" fill="#2c76c6"/>
<circle cx="497.0" cy="55.7" r="1.55" fill="#2c76c6"/>
<circle cx="514.6" cy="52.2" r="1.55" fill="#2c76c6"/>
<circle cx="472.5" cy="70.0" r="1.55" fill="#2c76c6"/>
<circle cx="494.4" cy="77.2" r="1.55" fill="#2c76c6"/>
<circle cx="507.6" cy="79.6" r="1.55" fill="#2c76c6"/>
<circle cx="501.4" cy="84.1" r="1.55" fill="#2c76c6"/>
<circle cx="534.7" cy="82.2" r="1.55" fill="#2c76c6"/>
<circle cx="559.2" cy="81.7" r="1.55" fill="#2c76c6"/>
<circle cx="512.8" cy="90.0" r="1.55" fill="#2c76c6"/>
<circle cx="473.7" cy="102.2" r="1.55" fill="#2c76c6"/>
<circle cx="478.7" cy="102.4" r="1.55" fill="#2c76c6"/>
<circle cx="555.4" cy="112.4" r="1.55" fill="#2c76c6"/>
<circle cx="558.0" cy="126.4" r="1.55" fill="#2c76c6"/>
<circle cx="463.8" cy="132.6" r="1.55" fill="#2c76c6"/>
<circle cx="493.9" cy="134.3" r="1.55" fill="#2c76c6"/>
<circle cx="490.4" cy="142.2" r="1.55" fill="#2c76c6"/>
<circle cx="518.4" cy="137.8" r="1.55" fill="#2c76c6"/>
<circle cx="533.0" cy="149.6" r="1.55" fill="#2c76c6"/>
<circle cx="558.4" cy="148.0" r="1.55" fill="#2c76c6"/>
<circle cx="102.0" cy="33.0" r="1.55" fill="#1d2183"/>
<circle cx="112.7" cy="37.3" r="1.55" fill="#1d2183"/>
<circle cx="109.8" cy="52.2" r="1.55" fill="#1d2183"/>
<circle cx="122.5" cy="64.7" r="1.55" fill="#1d2183"/>
<circle cx="130.2" cy="87.1" r="1.55" fill="#1d2183"/>
<circle cx="108.1" cy="145.3" r="1.55" fill="#1d2183"/>
<circle cx="125.3" cy="148.6" r="1.55" fill="#1d2183"/>
<circle cx="127.5" cy="37.3" r="1.55" fill="#1d2183"/>
<circle cx="126.1" cy="39.0" r="1.55" fill="#1d2183"/>
<circle cx="166.1" cy="35.0" r="1.55" fill="#1d2183"/>
<circle cx="170.4" cy="32.9" r="1.55" fill="#1d2183"/>
<circle cx="181.0" cy="35.0" r="1.55" fill="#1d2183"/>
<circle cx="207.8" cy="35.0" r="1.55" fill="#1d2183"/>
<circle cx="227.0" cy="32.9" r="1.55" fill="#1d2183"/>
<circle cx="119.6" cy="46.0" r="1.55" fill="#1d2183"/>
<circle cx="127.5" cy="44.3" r="1.55" fill="#1d2183"/>
<circle cx="171.0" cy="39.4" r="1.55" fill="#1d2183"/>
<circle cx="179.2" cy="43.9" r="1.55" fill="#1d2183"/>
<circle cx="210.7" cy="41.7" r="1.55" fill="#1d2183"/>
<circle cx="226.6" cy="39.6" r="1.55" fill="#1d2183"/>
<circle cx="226.6" cy="45.5" r="1.55" fill="#1d2183"/>
<circle cx="124.0" cy="52.2" r="1.55" fill="#1d2183"/>
<circle cx="172.7" cy="86.4" r="1.55" fill="#1d2183"/>
<circle cx="218.6" cy="87.0" r="1.55" fill="#1d2183"/>
<circle cx="178.7" cy="111.2" r="1.55" fill="#1d2183"/>
<circle cx="209.0" cy="117.3" r="1.55" fill="#1d2183"/>
<circle cx="178.3" cy="125.9" r="1.55" fill="#1d2183"/>
<circle cx="225.0" cy="32.9" r="1.55" fill="#1d2183"/>
<circle cx="227.6" cy="32.0" r="1.55" fill="#1d2183"/>
<circle cx="240.4" cy="38.1" r="1.55" fill="#1d2183"/>
<circle cx="269.3" cy="36.9" r="1.55" fill="#1d2183"/>
<circle cx="277.0" cy="34.6" r="1.55" fill="#1d2183"/>
<circle cx="274.1" cy="43.9" r="1.55" fill="#1d2183"/>
<circle cx="271.4" cy="50.1" r="1.55" fill="#1d2183"/>
<circle cx="320.5" cy="34.6" r="1.55" fill="#1d2183"/>
<circle cx="324.3" cy="36.4" r="1.55" fill="#1d2183"/>
<circle cx="310.8" cy="45.5" r="1.55" fill="#1d2183"/>
<circle cx="313.5" cy="44.8" r="1.55" fill="#1d2183"/>
<circle cx="318.7" cy="44.6" r="1.55" fill="#1d2183"/>
<circle cx="241.6" cy="76.7" r="1.55" fill="#1d2183"/>
<circle cx="270.9" cy="110.8" r="1.55" fill="#1d2183"/>
<circle cx="271.4" cy="127.7" r="1.55" fill="#1d2183"/>
<circle cx="235.5" cy="146.6" r="1.55" fill="#1d2183"/>
<circle cx="234.1" cy="149.6" r="1.55" fill="#1d2183"/>
<circle cx="277.2" cy="148.0" r="1.55" fill="#1d2183"/>
<circle cx="314.3" cy="145.3" r="1.55" fill="#1d2183"/>
<circle cx="313.1" cy="150.4" r="1.55" fill="#1d2183"/>
<circle cx="368.0" cy="35.2" r="1.55" fill="#1d2183"/>
<circle cx="383.3" cy="36.4" r="1.55" fill="#1d2183"/>
<circle cx="380.6" cy="46.9" r="1.55" fill="#1d2183"/>
<circle cx="374.2" cy="54.1" r="1.55" fill="#1d2183"/>
<circle cx="415.3" cy="39.0" r="1.55" fill="#1d2183"/>
<circle cx="413.6" cy="42.9" r="1.55" fill="#1d2183"/>
<circle cx="441.3" cy="39.4" r="1.55" fill="#1d2183"/>
<circle cx="448.3" cy="46.6" r="1.55" fill="#1d2183"/>
<circle cx="415.3" cy="67.4" r="1.55" fill="#1d2183"/>
<circle cx="447.7" cy="65.3" r="1.55" fill="#1d2183"/>
<circle cx="408.0" cy="116.4" r="1.55" fill="#1d2183"/>
<circle cx="409.0" cy="137.8" r="1.55" fill="#1d2183"/>
<circle cx="373.3" cy="145.2" r="1.55" fill="#1d2183"/>
<circle cx="403.6" cy="149.2" r="1.55" fill="#1d2183"/>
<circle cx="418.3" cy="145.7" r="1.55" fill="#1d2183"/>
<circle cx="433.7" cy="149.6" r="1.55" fill="#1d2183"/>
<circle cx="437.8" cy="143.6" r="1.55" fill="#1d2183"/>
<circle cx="440.9" cy="145.2" r="1.55" fill="#1d2183"/>
<circle cx="450.0" cy="129.9" r="1.55" fill="#1d2183"/>
<circle cx="540.3" cy="34.6" r="1.55" fill="#1d2183"/>
<circle cx="485.7" cy="39.4" r="1.55" fill="#1d2183"/>
<circle cx="550.1" cy="46.9" r="1.55" fill="#1d2183"/>
<circle cx="566.7" cy="44.5" r="1.55" fill="#1d2183"/>
<circle cx="574.1" cy="42.5" r="1.55" fill="#1d2183"/>
<circle cx="569.3" cy="63.1" r="1.55" fill="#1d2183"/>
<circle cx="565.4" cy="67.0" r="1.55" fill="#1d2183"/>
<circle cx="544.3" cy="75.5" r="1.55" fill="#1d2183"/>
<circle cx="575.8" cy="35.1" r="1.55" fill="#1d2183"/>
<circle cx="575.1" cy="41.6" r="1.55" fill="#1d2183"/>
<circle cx="575.1" cy="42.6" r="1.55" fill="#1d2183"/>
<circle cx="552.6" cy="115.4" r="1.55" fill="#1d2183"/>
<circle cx="554.3" cy="129.1" r="1.55" fill="#1d2183"/>
<circle cx="482.5" cy="147.4" r="1.55" fill="#1d2183"/>
<circle cx="45.4" cy="161.0" r="1.55" fill="#b03a8e"/>
<circle cx="47.6" cy="161.4" r="1.55" fill="#b03a8e"/>
<circle cx="57.6" cy="159.6" r="1.55" fill="#b03a8e"/>
<circle cx="64.6" cy="197.0" r="1.55" fill="#b03a8e"/>
<circle cx="142.8" cy="162.6" r="1.55" fill="#b03a8e"/>
<circle cx="139.3" cy="187.3" r="1.55" fill="#b03a8e"/>
<circle cx="156.4" cy="171.0" r="1.55" fill="#b03a8e"/>
<circle cx="157.8" cy="196.6" r="1.55" fill="#b03a8e"/>
<circle cx="142.2" cy="248.5" r="1.55" fill="#b03a8e"/>
<circle cx="199.6" cy="176.6" r="1.55" fill="#b03a8e"/>
<circle cx="353.8" cy="185.4" r="1.55" fill="#b03a8e"/>
<circle cx="422.4" cy="180.1" r="1.55" fill="#b03a8e"/>
<circle cx="426.4" cy="184.7" r="1.55" fill="#b03a8e"/>
<circle cx="424.7" cy="198.7" r="1.55" fill="#b03a8e"/>
<circle cx="455.9" cy="162.6" r="1.55" fill="#b03a8e"/>
<circle cx="494.2" cy="188.3" r="1.55" fill="#b03a8e"/>
<circle cx="482.2" cy="229.7" r="1.55" fill="#b03a8e"/>
<circle cx="503.8" cy="160.5" r="1.55" fill="#b03a8e"/>
<circle cx="247.2" cy="269.9" r="1.55" fill="#b03a8e"/>
<circle cx="339.8" cy="277.1" r="1.55" fill="#b03a8e"/>
<circle cx="419.3" cy="261.5" r="1.55" fill="#b03a8e"/>
<circle cx="400.5" cy="277.4" r="1.55" fill="#b03a8e"/>
<circle cx="473.0" cy="277.4" r="1.55" fill="#b03a8e"/>
<circle cx="561.6" cy="261.4" r="1.55" fill="#b03a8e"/>
<circle cx="108.4" cy="164.4" r="1.55" fill="#6a4596"/>
<circle cx="127.3" cy="162.3" r="1.55" fill="#6a4596"/>
<circle cx="175.4" cy="162.8" r="1.55" fill="#6a4596"/>
<circle cx="218.7" cy="173.1" r="1.55" fill="#6a4596"/>
<circle cx="378.5" cy="158.4" r="1.55" fill="#6a4596"/>
<circle cx="367.5" cy="168.4" r="1.55" fill="#6a4596"/>
<circle cx="378.9" cy="206.9" r="1.55" fill="#6a4596"/>
<circle cx="321.9" cy="246.0" r="1.55" fill="#6a4596"/>
<circle cx="386.1" cy="159.1" r="1.55" fill="#6a4596"/>
<circle cx="389.1" cy="163.5" r="1.55" fill="#6a4596"/>
<circle cx="385.6" cy="168.6" r="1.55" fill="#6a4596"/>
<circle cx="387.4" cy="185.6" r="1.55" fill="#6a4596"/>
<circle cx="405.9" cy="161.0" r="1.55" fill="#6a4596"/>
<circle cx="409.4" cy="163.5" r="1.55" fill="#6a4596"/>
<circle cx="433.1" cy="164.5" r="1.55" fill="#6a4596"/>
<circle cx="446.0" cy="170.5" r="1.55" fill="#6a4596"/>
<circle cx="413.3" cy="194.7" r="1.55" fill="#6a4596"/>
<circle cx="543.9" cy="250.4" r="1.55" fill="#6a4596"/>
<circle cx="439.7" cy="277.4" r="1.55" fill="#6a4596"/>
<circle cx="291.6" cy="138.3" r="1.55" fill="#2c76c6"/>
<circle cx="292.7" cy="138.3" r="1.55" fill="#2c76c6"/>
<circle cx="293.8" cy="138.3" r="1.55" fill="#2c76c6"/>
<circle cx="294.9" cy="138.3" r="1.55" fill="#2c76c6"/>
<circle cx="296.0" cy="138.3" r="1.55" fill="#2c76c6"/>
<circle cx="297.1" cy="138.3" r="1.55" fill="#2c76c6"/>
<circle cx="298.1" cy="138.3" r="1.55" fill="#2c76c6"/>
<circle cx="299.2" cy="138.3" r="1.55" fill="#2c76c6"/>
<circle cx="300.3" cy="138.3" r="1.55" fill="#2c76c6"/>
<circle cx="77.9" cy="371.1" r="1.4" fill="#1d2183"/>
<circle cx="119.2" cy="375.2" r="1.4" fill="#1d2183"/>
<circle cx="156.9" cy="383.1" r="1.4" fill="#1d2183"/>
<circle cx="160.9" cy="385.2" r="1.4" fill="#1d2183"/>
<circle cx="166.6" cy="398.8" r="1.4" fill="#1d2183"/>
<circle cx="169.3" cy="399.5" r="1.4" fill="#1d2183"/>
<circle cx="168.0" cy="404.1" r="1.4" fill="#1d2183"/>
<circle cx="163.1" cy="408.3" r="1.4" fill="#1d2183"/>
<circle cx="165.8" cy="409.3" r="1.4" fill="#1d2183"/>
<circle cx="216.6" cy="396.2" r="1.4" fill="#1d2183"/>
<circle cx="158.2" cy="428.0" r="1.4" fill="#1d2183"/>
<circle cx="164.5" cy="427.7" r="1.4" fill="#1d2183"/>
<circle cx="224.1" cy="427.0" r="1.4" fill="#1d2183"/>
<circle cx="267.9" cy="386.6" r="1.4" fill="#1d2183"/>
<circle cx="161.9" cy="435.4" r="1.4" fill="#1d2183"/>
<circle cx="159.6" cy="452.8" r="1.4" fill="#1d2183"/>
<circle cx="155.8" cy="458.0" r="1.4" fill="#1d2183"/>
<circle cx="154.5" cy="459.9" r="1.4" fill="#1d2183"/>
<circle cx="182.6" cy="438.7" r="1.4" fill="#1d2183"/>
<circle cx="272.9" cy="371.1" r="1.4" fill="#1d2183"/>
<circle cx="279.0" cy="371.1" r="1.4" fill="#1d2183"/>
<circle cx="320.5" cy="371.0" r="1.4" fill="#1d2183"/>
<circle cx="321.7" cy="371.0" r="1.4" fill="#1d2183"/>
<circle cx="323.1" cy="371.4" r="1.4" fill="#1d2183"/>
<circle cx="321.7" cy="375.8" r="1.4" fill="#1d2183"/>
<circle cx="314.6" cy="390.6" r="1.4" fill="#1d2183"/>
<circle cx="324.2" cy="400.6" r="1.4" fill="#1d2183"/>
<circle cx="316.7" cy="405.8" r="1.4" fill="#1d2183"/>
<circle cx="311.9" cy="410.9" r="1.4" fill="#1d2183"/>
<circle cx="417.7" cy="370.8" r="1.4" fill="#1d2183"/>
<circle cx="419.6" cy="370.6" r="1.4" fill="#1d2183"/>
<circle cx="466.6" cy="370.6" r="1.4" fill="#1d2183"/>
<circle cx="483.7" cy="370.6" r="1.4" fill="#1d2183"/>
<circle cx="472.7" cy="393.6" r="1.4" fill="#1d2183"/>
<circle cx="530.1" cy="371.0" r="1.4" fill="#1d2183"/>
<circle cx="543.5" cy="371.0" r="1.4" fill="#1d2183"/>
<circle cx="544.7" cy="372.6" r="1.4" fill="#1d2183"/>
<circle cx="565.4" cy="371.0" r="1.4" fill="#1d2183"/>
<circle cx="571.4" cy="433.2" r="1.4" fill="#1d2183"/>
<circle cx="527.6" cy="443.2" r="1.4" fill="#1d2183"/>
<circle cx="562.9" cy="460.9" r="1.4" fill="#1d2183"/>
<circle cx="533.6" cy="482.1" r="1.4" fill="#1d2183"/>
<circle cx="275.1" cy="461.7" r="1.4" fill="#1d2183"/>
<circle cx="310.7" cy="455.0" r="1.4" fill="#1d2183"/>
<circle cx="313.2" cy="473.4" r="1.4" fill="#1d2183"/>
<circle cx="331.2" cy="484.8" r="1.4" fill="#1d2183"/>
<circle cx="459.3" cy="479.2" r="1.4" fill="#1d2183"/>
<circle cx="469.3" cy="485.3" r="1.4" fill="#1d2183"/>
<circle cx="241.1" cy="372.4" r="1.4" fill="#2c76c6"/>
<circle cx="243.7" cy="371.5" r="1.4" fill="#2c76c6"/>
<circle cx="239.9" cy="391.6" r="1.4" fill="#2c76c6"/>
<circle cx="237.6" cy="404.4" r="1.4" fill="#2c76c6"/>
<circle cx="187.3" cy="463.8" r="1.4" fill="#2c76c6"/>
<circle cx="186.4" cy="486.2" r="1.4" fill="#2c76c6"/>
<circle cx="286.5" cy="370.8" r="1.4" fill="#2c76c6"/>
<circle cx="305.8" cy="370.8" r="1.4" fill="#2c76c6"/>
<circle cx="307.2" cy="374.1" r="1.4" fill="#2c76c6"/>
<circle cx="329.1" cy="375.0" r="1.4" fill="#2c76c6"/>
<circle cx="364.5" cy="393.0" r="1.4" fill="#2c76c6"/>
<circle cx="352.2" cy="432.3" r="1.4" fill="#2c76c6"/>
<circle cx="486.7" cy="371.5" r="1.4" fill="#2c76c6"/>
<circle cx="488.5" cy="371.5" r="1.4" fill="#2c76c6"/>
<circle cx="490.8" cy="370.6" r="1.4" fill="#2c76c6"/>
<circle cx="492.9" cy="370.6" r="1.4" fill="#2c76c6"/>
<circle cx="494.1" cy="370.3" r="1.4" fill="#2c76c6"/>
<circle cx="488.5" cy="376.4" r="1.4" fill="#2c76c6"/>
<circle cx="492.3" cy="379.4" r="1.4" fill="#2c76c6"/>
<circle cx="494.6" cy="390.8" r="1.4" fill="#2c76c6"/>
<circle cx="558.1" cy="483.6" r="1.4" fill="#2c76c6"/>
<circle cx="376.2" cy="374.3" r="1.4" fill="#2c76c6"/>
<circle cx="393.1" cy="373.7" r="1.4" fill="#2c76c6"/>
<circle cx="400.7" cy="373.7" r="1.4" fill="#2c76c6"/>
<circle cx="397.0" cy="395.4" r="1.4" fill="#2c76c6"/>
<circle cx="349.4" cy="370.8" r="1.4" fill="#2c76c6"/>
<circle cx="339.5" cy="497.2" r="1.4" fill="#6a4596"/>
<circle cx="496.1" cy="613.1" r="1.4" fill="#b03a8e"/>
<circle cx="348.8" cy="370.6" r="1.4" fill="#2c76c6"/>
<circle cx="350.1" cy="371.0" r="1.4" fill="#2c76c6"/>
<circle cx="351.3" cy="370.8" r="1.4" fill="#2c76c6"/>
<circle cx="352.6" cy="371.1" r="1.4" fill="#2c76c6"/>
<circle cx="353.8" cy="371.1" r="1.4" fill="#2c76c6"/>
<circle cx="355.1" cy="370.3" r="1.4" fill="#2c76c6"/>
<circle cx="356.3" cy="370.2" r="1.4" fill="#2c76c6"/>
<circle cx="357.6" cy="371.5" r="1.4" fill="#2c76c6"/>
<circle cx="358.8" cy="370.6" r="1.4" fill="#2c76c6"/>
<circle cx="360.1" cy="370.6" r="1.4" fill="#2c76c6"/>
<circle cx="361.3" cy="371.7" r="1.4" fill="#2c76c6"/>
<circle cx="362.6" cy="370.9" r="1.4" fill="#2c76c6"/>
<circle cx="363.8" cy="371.5" r="1.4" fill="#2c76c6"/>
<circle cx="365.1" cy="370.9" r="1.4" fill="#2c76c6"/>
<circle cx="366.3" cy="371.2" r="1.4" fill="#2c76c6"/>
<circle cx="367.6" cy="370.4" r="1.4" fill="#2c76c6"/>
<circle cx="368.8" cy="371.2" r="1.4" fill="#2c76c6"/>
<circle cx="370.1" cy="371.5" r="1.4" fill="#2c76c6"/>
<circle cx="371.3" cy="371.0" r="1.4" fill="#2c76c6"/>
<circle cx="372.6" cy="371.3" r="1.4" fill="#2c76c6"/>
<circle cx="373.8" cy="371.2" r="1.4" fill="#2c76c6"/>
<circle cx="375.1" cy="370.3" r="1.4" fill="#2c76c6"/>
<circle cx="376.3" cy="371.3" r="1.4" fill="#2c76c6"/>
<circle cx="377.6" cy="371.1" r="1.4" fill="#2c76c6"/>
<circle cx="378.8" cy="370.7" r="1.4" fill="#2c76c6"/>
<circle cx="380.1" cy="370.2" r="1.4" fill="#2c76c6"/>
<circle cx="381.3" cy="371.5" r="1.4" fill="#2c76c6"/>
<circle cx="382.6" cy="370.9" r="1.4" fill="#2c76c6"/>
<circle cx="383.8" cy="371.3" r="1.4" fill="#2c76c6"/>
<circle cx="387.9" cy="371.4" r="1.4" fill="#2c76c6"/>
<circle cx="389.2" cy="371.2" r="1.4" fill="#2c76c6"/>
<circle cx="390.5" cy="371.5" r="1.4" fill="#2c76c6"/>
<circle cx="391.8" cy="370.8" r="1.4" fill="#2c76c6"/>
<circle cx="393.1" cy="371.3" r="1.4" fill="#2c76c6"/>
<circle cx="394.4" cy="370.9" r="1.4" fill="#2c76c6"/>
<circle cx="395.7" cy="371.5" r="1.4" fill="#2c76c6"/>
<circle cx="397.0" cy="371.4" r="1.4" fill="#2c76c6"/>
<circle cx="398.3" cy="370.4" r="1.4" fill="#2c76c6"/>
<circle cx="399.6" cy="370.5" r="1.4" fill="#2c76c6"/>
<circle cx="400.9" cy="370.6" r="1.4" fill="#2c76c6"/>
<circle cx="402.2" cy="371.6" r="1.4" fill="#2c76c6"/>
<circle cx="403.5" cy="370.9" r="1.4" fill="#2c76c6"/>
<text x="282.6" y="11.2" font-size="14" fill="#1a1a1a" textLength="112.3" lengthAdjust="spacingAndGlyphs">proteomics-T2D</text>
<text x="-2.7" y="37" font-size="19" fill="#1a1a1a">a</text>
<text x="33.2" y="34.2" font-size="8.2" fill="#222" text-anchor="end">1.00</text>
<text x="33.2" y="65.2" font-size="8.2" fill="#222" text-anchor="end">0.75</text>
<text x="33.2" y="96.30000000000001" font-size="8.2" fill="#222" text-anchor="end">0.50</text>
<text x="33.2" y="126.80000000000001" font-size="8.2" fill="#222" text-anchor="end">0.25</text>
<text x="33.2" y="157.3" font-size="8.2" fill="#222" text-anchor="end">0.00</text>
<text x="33.2" y="188.1" font-size="8.2" fill="#222" text-anchor="end">0.25</text>
<text x="33.2" y="218.9" font-size="8.2" fill="#222" text-anchor="end">0.50</text>
<text x="33.2" y="249.6" font-size="8.2" fill="#222" text-anchor="end">0.75</text>
<text x="33.2" y="280.59999999999997" font-size="8.2" fill="#222" text-anchor="end">1.00</text>
<text x="67.2" y="299" font-size="8" fill="#222" text-anchor="middle">1</text>
<text x="113.9" y="299" font-size="8" fill="#222" text-anchor="middle">2</text>
<text x="146.6" y="299" font-size="8" fill="#222" text-anchor="middle">3</text>
<text x="171.9" y="299" font-size="8" fill="#222" text-anchor="middle">4</text>
<text x="195" y="299" font-size="8" fill="#222" text-anchor="middle">5</text>
<text x="225.5" y="299" font-size="8" fill="#222" text-anchor="middle">6</text>
<text x="254.5" y="299" font-size="8" fill="#222" text-anchor="middle">7</text>
<text x="273.9" y="299" font-size="8" fill="#222" text-anchor="middle">8</text>
<text x="296" y="299" font-size="8" fill="#222" text-anchor="middle">9</text>
<text x="322.7" y="299" font-size="8" fill="#222" text-anchor="middle">10</text>
<text x="350.4" y="299" font-size="8" fill="#222" text-anchor="middle">11</text>
<text x="381.4" y="299" font-size="8" fill="#222" text-anchor="middle">12</text>
<text x="399" y="299" font-size="8" fill="#222" text-anchor="middle">13</text>
<text x="412" y="299" font-size="8" fill="#222" text-anchor="middle">14</text>
<text x="426.8" y="299" font-size="8" fill="#222" text-anchor="middle">15</text>
<text x="441.7" y="299" font-size="8" fill="#222" text-anchor="middle">16</text>
<text x="467.8" y="299" font-size="8" fill="#222" text-anchor="middle">17</text>
<text x="488.3" y="299" font-size="8" fill="#222" text-anchor="middle">18</text>
<text x="515.9" y="299" font-size="8" fill="#222" text-anchor="middle">19</text>
<text x="546.3" y="299" font-size="8" fill="#222" text-anchor="middle">20</text>
<text x="559.7" y="299" font-size="8" fill="#222" text-anchor="middle">21</text>
<text x="572" y="299" font-size="8" fill="#222" text-anchor="middle">22</text>
<text x="322.2" y="316" font-size="8.5" fill="#1a1a1a" text-anchor="middle" textLength="51" lengthAdjust="spacingAndGlyphs">Chromosome</text>
<text x="40.5" y="37.85" font-size="7.6" fill="#111" textLength="21.5" lengthAdjust="spacingAndGlyphs">CA056</text>
<text x="68.9" y="28.75" font-size="7.6" fill="#111" textLength="29.2" lengthAdjust="spacingAndGlyphs">S100A13</text>
<text x="102.9" y="28.75" font-size="7.6" fill="#111" textLength="24.4" lengthAdjust="spacingAndGlyphs">MOBL3</text>
<text x="93.4" y="44.35" font-size="7.6" fill="#111" textLength="22.2" lengthAdjust="spacingAndGlyphs">SPC25</text>
<text x="137" y="38.15" font-size="7.6" fill="#111" textLength="22.9" lengthAdjust="spacingAndGlyphs">LRRN1</text>
<text x="175" y="43.25" font-size="7.6" fill="#111" textLength="18.5" lengthAdjust="spacingAndGlyphs">TBCA</text>
<text x="289" y="38.65" font-size="7.6" fill="#111" textLength="16.8" lengthAdjust="spacingAndGlyphs">BGAT</text>
<text x="329.9" y="39.25" font-size="7.6" fill="#111" textLength="18.9" lengthAdjust="spacingAndGlyphs">LIPR1</text>
<text x="349" y="28.95" font-size="7.6" fill="#111" textLength="23.4" lengthAdjust="spacingAndGlyphs">MANS4</text>
<text x="382.6" y="44.45" font-size="7.6" fill="#111" textLength="22.4" lengthAdjust="spacingAndGlyphs">BN3D2</text>
<text x="222" y="276.35" font-size="7.6" fill="#111" textLength="21.9" lengthAdjust="spacingAndGlyphs">CC126</text>
<text x="316.2" y="283.55" font-size="7.6" fill="#111" textLength="19.7" lengthAdjust="spacingAndGlyphs">K154L</text>
<text x="390.7" y="268.75" font-size="7.6" fill="#111" textLength="24.9" lengthAdjust="spacingAndGlyphs">GREM1</text>
<text x="375.3" y="283.65" font-size="7.6" fill="#111" textLength="21.9" lengthAdjust="spacingAndGlyphs">TEX29</text>
<text x="443.4" y="277.95" font-size="7.6" fill="#111" textLength="15.7" lengthAdjust="spacingAndGlyphs">p130</text>
<text x="476.5" y="277.95" font-size="7.6" fill="#111" textLength="14.3" lengthAdjust="spacingAndGlyphs">ACE</text>
<text x="534.8" y="267.65" font-size="7.6" fill="#111" textLength="24.0" lengthAdjust="spacingAndGlyphs">TSEAR</text>
<text x="639.3" y="121.9" font-size="13.7" fill="#333" text-anchor="middle">EUR</text>
<text x="638.9" y="250.8" font-size="13.7" fill="#333" text-anchor="middle">AFR</text>
<text x="273.6" y="338.2" font-size="14" fill="#1a1a1a" textLength="131.8" lengthAdjust="spacingAndGlyphs">metabolomics-T2D</text>
<text x="-1.4" y="373.6" font-size="16" fill="#1a1a1a">b</text>
<text x="33.0" y="375.2" font-size="8.2" fill="#222" text-anchor="end">1.00</text>
<text x="33.0" y="406.09999999999997" font-size="8.2" fill="#222" text-anchor="end">0.75</text>
<text x="33.0" y="436.5" font-size="8.2" fill="#222" text-anchor="end">0.50</text>
<text x="33.0" y="467.2" font-size="8.2" fill="#222" text-anchor="end">0.25</text>
<text x="33.0" y="498.29999999999995" font-size="8.2" fill="#222" text-anchor="end">0.00</text>
<text x="33.0" y="528.3" font-size="8.2" fill="#222" text-anchor="end">0.25</text>
<text x="33.0" y="559.0" font-size="8.2" fill="#222" text-anchor="end">0.50</text>
<text x="33.0" y="590.1999999999999" font-size="8.2" fill="#222" text-anchor="end">0.75</text>
<text x="33.0" y="621.9" font-size="8.2" fill="#222" text-anchor="end">1.00</text>
<text x="45.3" y="631.5" font-size="8" fill="#222" text-anchor="middle">1</text>
<text x="119.8" y="631.5" font-size="8" fill="#222" text-anchor="middle">2</text>
<text x="180.2" y="631.5" font-size="8" fill="#222" text-anchor="middle">3</text>
<text x="204.3" y="631.5" font-size="8" fill="#222" text-anchor="middle">4</text>
<text x="233.7" y="631.5" font-size="8" fill="#222" text-anchor="middle">5</text>
<text x="258.6" y="631.5" font-size="8" fill="#222" text-anchor="middle">6</text>
<text x="288.5" y="631.5" font-size="8" fill="#222" text-anchor="middle">7</text>
<text x="312.5" y="631.5" font-size="8" fill="#222" text-anchor="middle">8</text>
<text x="323" y="631.5" font-size="8" fill="#222" text-anchor="middle">9</text>
<text x="335.8" y="631.5" font-size="8" fill="#222" text-anchor="middle">10</text>
<text x="381" y="631.5" font-size="8" fill="#222" text-anchor="middle">11</text>
<text x="440.5" y="631.5" font-size="8" fill="#222" text-anchor="middle">12</text>
<text x="464.6" y="631.5" font-size="8" fill="#222" text-anchor="middle">13</text>
<text x="475.6" y="631.5" font-size="8" fill="#222" text-anchor="middle">14</text>
<text x="492.7" y="631.5" font-size="8" fill="#222" text-anchor="middle">15</text>
<text x="509.4" y="631.5" font-size="8" fill="#222" text-anchor="middle">16</text>
<text x="521.2" y="631.5" font-size="8" fill="#222" text-anchor="middle">17</text>
<text x="541.4" y="631.5" font-size="8" fill="#222" text-anchor="middle">19</text>
<text x="562" y="631.5" font-size="8" fill="#222" text-anchor="middle">20</text>
<text x="572.2" y="631.5" font-size="8" fill="#222" text-anchor="middle">22</text>
<text x="321.7" y="649.2" font-size="8.5" fill="#1a1a1a" text-anchor="middle" textLength="50" lengthAdjust="spacingAndGlyphs">Chromosome</text>
<text x="316.4" y="369.1" font-size="6.6" fill="#333" textLength="26.6" lengthAdjust="spacingAndGlyphs">X−17357</text>
<text x="462.9" y="336.7" font-size="5.2" fill="#111" font-weight="bold" textLength="141.3" lengthAdjust="spacingAndGlyphs">1−stearoyl−2−dihomo−linolenoyl−GPE (18:0/20:3n3 or 6)*</text>
<text x="483.9" y="346.09999999999997" font-size="5.2" fill="#111" font-weight="bold" textLength="98.8" lengthAdjust="spacingAndGlyphs">1−stearoyl−2−linoleoyl−GPE (18:0/18:2)*</text>
<text x="364.5" y="351.4" font-size="5.2" fill="#111" font-weight="bold" textLength="118.0" lengthAdjust="spacingAndGlyphs">1−arachidoyl−2−arachidonoyl−GPC (20:0/20:4)*</text>
<text x="364.5" y="358.4" font-size="5.2" fill="#111" font-weight="bold" textLength="94.7" lengthAdjust="spacingAndGlyphs">1−oleoyl−2−linoleoyl−GPE (18:1/18:2)*</text>
<text x="483.9" y="358.9" font-size="5.2" fill="#111" font-weight="bold" textLength="105.8" lengthAdjust="spacingAndGlyphs">1−oleoyl−2−arachidonoyl−GPE (18:1/20:4)*</text>
<text x="364.5" y="366.59999999999997" font-size="5.2" fill="#111" font-weight="bold" textLength="116.9" lengthAdjust="spacingAndGlyphs">linoleoyl−arachidonoyl−glycerol (18:2/20:4) [1]*</text>
<text x="368.5" y="382.9" font-size="5.2" fill="#111" font-weight="bold" textLength="108.9" lengthAdjust="spacingAndGlyphs">1−stearoyl−2−arachidonoyl−GPC (18:0/20:4)</text>
<text x="325.7" y="389.59999999999997" font-size="5.2" fill="#111" font-weight="bold" textLength="77.1" lengthAdjust="spacingAndGlyphs">1,2−dilinoleoyl−GPC (18:2/18:2)</text>
<text x="335.5" y="406.79999999999995" font-size="5.2" fill="#111" font-weight="bold" textLength="128.1" lengthAdjust="spacingAndGlyphs">hydroxypalmitoyl sphingomyelin (d18:1/16:0(OH))**</text>
<text x="491.8" y="610.6" font-size="7.3" fill="#333" textLength="50.1" lengthAdjust="spacingAndGlyphs">3−sulfo−alanine</text>
<text x="642.5" y="476.8" font-size="13.7" fill="#333" text-anchor="middle">EUR</text>
<text x="646.1" y="608.7" font-size="13.7" fill="#333" text-anchor="middle">AFR</text>
<text x="4" y="674.5" font-size="15" fill="#1a1a1a">c</text>
<text x="146.5" y="680.8" font-size="13.3" fill="#1a1a1a" text-anchor="middle">proteomics</text>
<text x="84.7" y="710.3" font-size="13.3" fill="#1a1a1a" text-anchor="middle">EUR</text>
<text x="211.5" y="710.3" font-size="13.3" fill="#1a1a1a" text-anchor="middle">AFR</text>
<text x="82" y="799.2" font-size="13" fill="#1a1a1a" text-anchor="middle">270</text>
<text x="145.1" y="799.2" font-size="13" fill="#1a1a1a" text-anchor="middle">0</text>
<text x="208.9" y="799.2" font-size="13" fill="#1a1a1a" text-anchor="middle">7</text>
<text x="346.2" y="670.4" font-size="15" fill="#1a1a1a">d</text>
<text x="493" y="678.4" font-size="13.3" fill="#1a1a1a" text-anchor="middle">metabolomics</text>
<text x="431.3" y="710.7" font-size="13.3" fill="#1a1a1a" text-anchor="middle">EUR</text>
<text x="559.1" y="710.7" font-size="13.3" fill="#1a1a1a" text-anchor="middle">AFR</text>
<text x="428.1" y="800" font-size="13" fill="#1a1a1a" text-anchor="middle">72</text>
<text x="492.1" y="800" font-size="13" fill="#1a1a1a" text-anchor="middle">0</text>
<text x="555.6" y="800" font-size="13" fill="#1a1a1a" text-anchor="middle">1</text>
<text x="6.4" y="937.2" font-size="15" fill="#1a1a1a">e</text>
<text x="63.8" y="1003.8" font-size="12.3" fill="#222" text-anchor="middle" textLength="56" lengthAdjust="spacingAndGlyphs">EUR-T2D</text>
<text x="124.6" y="950.3" font-size="9.27" fill="#4a4a4a">protein enriched pathways:</text>
<text x="124.6" y="959.5999999999999" font-size="9.27" fill="#000">1) transmembrane receptor protein tyrosine kinase activity</text>
<text x="124.6" y="968.8" font-size="9.27" fill="#000">2) positive regulation of phosphatidylinositol 3-kinase/</text>
<text x="124.6" y="978.4" font-size="9.27" fill="#000">protein kinase B signal transduction</text>
<text x="124.6" y="991.5999999999999" font-size="9.27" fill="#4a4a4a">metabolite enriched pathways:</text>
<text x="124.6" y="1001.1999999999999" font-size="9.27" fill="#000">1) Phosphatidylcholine (PC)</text>
<text x="124.6" y="1010.4" font-size="9.27" fill="#000">2) Phosphatidylethanolamine (PE)</text>
<text x="124.6" y="1020.4" font-size="9.27" fill="#000">3) Progestin Steroids</text>
<text x="423.9" y="1002.2" font-size="12.3" fill="#222" text-anchor="middle" textLength="55" lengthAdjust="spacingAndGlyphs">AFR-T2D</text>
<text x="461.8" y="945.0" font-size="9.27" fill="#4a4a4a">protein enriched pathways:</text>
<text x="461.8" y="954.3" font-size="9.27" fill="#000">1) biomineral tissue development</text>
<text x="461.8" y="964.1999999999999" font-size="9.27" fill="#000">2) tissue remodeling</text>
<text x="461.8" y="973.5" font-size="9.27" fill="#000">3) stem cell differentiation</text>
<text x="461.8" y="992.1999999999999" font-size="9.27" fill="#4a4a4a">metabolite enriched pathways:</text>
<text x="461.8" y="1001.0999999999999" font-size="9.27" fill="#000">1) Methionine, Cysteine, SAM and Taurine Metabolism</text>
</svg>
</body></html>
